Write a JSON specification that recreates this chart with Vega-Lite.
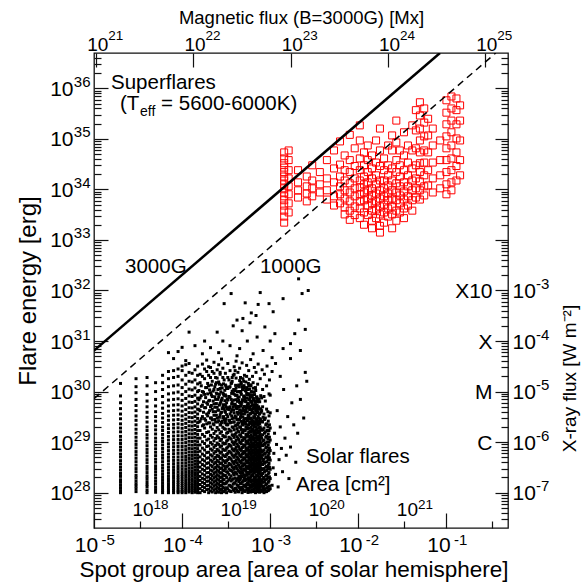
{
"$schema": "https://vega.github.io/schema/vega-lite/v6.json",
"width": 414, "height": 475,
"autosize": "none",
"padding": {"left": 94, "top": 53, "right": 73, "bottom": 55},
"background": "white",
"config": {
 "view": {"stroke": "#111", "strokeWidth": 1.3},
 "axis": {"grid": false, "domain": false, "tickColor": "#111", "tickWidth": 1.2, "labelColor": "#000", "titleColor": "#000", "labelFont": "Liberation Sans", "titleFont": "Liberation Sans", "titleFontWeight": "normal", "labelOverlap": false, "labelFlush": false, "labelBound": false, "titlePadding": 0},
 "text": {"font": "Liberation Sans"}
},
"datasets": {
"solar": [
{"x":2e-5,"y":1e28},{"x":2e-5,"y":1.1e28},{"x":2e-5,"y":1.25e28},{"x":2e-5,"y":1.4e28},{"x":2e-5,"y":1.6e28},{"x":2e-5,"y":1.8e28},{"x":2e-5,"y":2.1e28},{"x":2e-5,"y":2.4e28},{"x":2e-5,"y":2.8e28},{"x":2e-5,"y":3.2e28},{"x":2e-5,"y":3.7e28},{"x":2e-5,"y":4.3e28},{"x":2e-5,"y":5.1e28},{"x":2e-5,"y":5.8e28},{"x":2e-5,"y":6.9e28},{"x":2e-5,"y":8e28},{"x":2e-5,"y":9.4e28},{"x":2e-5,"y":1.1e29},{"x":2e-5,"y":1.3e29},{"x":2e-5,"y":1.6e29},{"x":2e-5,"y":1.9e29},{"x":2e-5,"y":2.3e29},{"x":2e-5,"y":2.9e29},{"x":2e-5,"y":3.6e29},{"x":2e-5,"y":4.6e29},{"x":2e-5,"y":6e29},{"x":2e-5,"y":8.2e29},{"x":2e-5,"y":1.45e30},
{"x":3e-5,"y":1.05e28},{"x":3e-5,"y":1.2e28},{"x":3e-5,"y":1.35e28},{"x":3e-5,"y":1.5e28},{"x":3e-5,"y":1.7e28},{"x":3e-5,"y":1.95e28},{"x":3e-5,"y":2.2e28},{"x":3e-5,"y":2.6e28},{"x":3e-5,"y":3e28},{"x":3e-5,"y":3.5e28},{"x":3e-5,"y":4.1e28},{"x":3e-5,"y":4.8e28},{"x":3e-5,"y":5.6e28},{"x":3e-5,"y":6.5e28},{"x":3e-5,"y":7.7e28},{"x":3e-5,"y":9e28},{"x":3e-5,"y":1.05e29},{"x":3e-5,"y":1.25e29},{"x":3e-5,"y":1.5e29},{"x":3e-5,"y":1.8e29},{"x":3e-5,"y":2.2e29},{"x":3e-5,"y":2.7e29},{"x":3e-5,"y":3.3e29},{"x":3e-5,"y":4.2e29},{"x":3e-5,"y":5.3e29},{"x":3e-5,"y":7e29},{"x":3e-5,"y":9.5e29},{"x":3e-5,"y":1.25e30},{"x":3e-5,"y":1.8e30},
{"x":4e-5,"y":1e28},{"x":4e-5,"y":1.12e28},{"x":4e-5,"y":1.3e28},{"x":4e-5,"y":1.45e28},{"x":4e-5,"y":1.65e28},{"x":4e-5,"y":1.9e28},{"x":4e-5,"y":2.15e28},{"x":4e-5,"y":2.5e28},{"x":4e-5,"y":2.9e28},{"x":4e-5,"y":3.3e28},{"x":4e-5,"y":3.9e28},{"x":4e-5,"y":4.5e28},{"x":4e-5,"y":5.3e28},{"x":4e-5,"y":6.2e28},{"x":4e-5,"y":7.2e28},{"x":4e-5,"y":8.5e28},{"x":4e-5,"y":1e29},{"x":4e-5,"y":1.2e29},{"x":4e-5,"y":1.4e29},{"x":4e-5,"y":1.7e29},{"x":4e-5,"y":2e29},{"x":4e-5,"y":2.5e29},{"x":4e-5,"y":3.1e29},{"x":4e-5,"y":3.9e29},{"x":4e-5,"y":5e29},{"x":4e-5,"y":6.5e29},{"x":4e-5,"y":8.8e29},{"x":4e-5,"y":1.3e30},{"x":4e-5,"y":1.9e30},
{"x":5e-5,"y":1.02e28},{"x":5e-5,"y":1.15e28},{"x":5e-5,"y":1.3e28},{"x":5e-5,"y":1.5e28},{"x":5e-5,"y":1.7e28},{"x":5e-5,"y":1.95e28},{"x":5e-5,"y":2.25e28},{"x":5e-5,"y":2.6e28},{"x":5e-5,"y":3e28},{"x":5e-5,"y":3.4e28},{"x":5e-5,"y":4e28},{"x":5e-5,"y":4.6e28},{"x":5e-5,"y":5.4e28},{"x":5e-5,"y":6.3e28},{"x":5e-5,"y":7.4e28},{"x":5e-5,"y":8.7e28},{"x":5e-5,"y":1.02e29},{"x":5e-5,"y":1.2e29},{"x":5e-5,"y":1.45e29},{"x":5e-5,"y":1.75e29},{"x":5e-5,"y":2.1e29},{"x":5e-5,"y":2.6e29},{"x":5e-5,"y":3.2e29},{"x":5e-5,"y":4e29},{"x":5e-5,"y":5.2e29},{"x":5e-5,"y":7e29},{"x":5e-5,"y":1e30},{"x":5e-5,"y":1.5e30},
{"x":6e-5,"y":1e28},{"x":6e-5,"y":1.1e28},{"x":6e-5,"y":1.22e28},{"x":6e-5,"y":1.38e28},{"x":6e-5,"y":1.55e28},{"x":6e-5,"y":1.75e28},{"x":6e-5,"y":2e28},{"x":6e-5,"y":2.3e28},{"x":6e-5,"y":2.65e28},{"x":6e-5,"y":3.05e28},{"x":6e-5,"y":3.5e28},{"x":6e-5,"y":4.1e28},{"x":6e-5,"y":4.8e28},{"x":6e-5,"y":5.5e28},{"x":6e-5,"y":6.4e28},{"x":6e-5,"y":7.5e28},{"x":6e-5,"y":8.8e28},{"x":6e-5,"y":1.03e29},{"x":6e-5,"y":1.2e29},{"x":6e-5,"y":1.42e29},{"x":6e-5,"y":1.7e29},{"x":6e-5,"y":2e29},{"x":6e-5,"y":2.45e29},{"x":6e-5,"y":3e29},{"x":6e-5,"y":3.7e29},{"x":6e-5,"y":4.7e29},{"x":6e-5,"y":6e29},{"x":6e-5,"y":8e29},{"x":6e-5,"y":1.1e30},{"x":6e-5,"y":1.5e30},{"x":6e-5,"y":2.1e30},
{"x":7e-5,"y":1e28},{"x":7e-5,"y":1.08e28},{"x":7e-5,"y":1.2e28},{"x":7e-5,"y":1.33e28},{"x":7e-5,"y":1.5e28},{"x":7e-5,"y":1.68e28},{"x":7e-5,"y":1.9e28},{"x":7e-5,"y":2.15e28},{"x":7e-5,"y":2.45e28},{"x":7e-5,"y":2.8e28},{"x":7e-5,"y":3.2e28},{"x":7e-5,"y":3.7e28},{"x":7e-5,"y":4.3e28},{"x":7e-5,"y":5e28},{"x":7e-5,"y":5.8e28},{"x":7e-5,"y":6.8e28},{"x":7e-5,"y":8e28},{"x":7e-5,"y":9.3e28},{"x":7e-5,"y":1.1e29},{"x":7e-5,"y":1.3e29},{"x":7e-5,"y":1.55e29},{"x":7e-5,"y":1.85e29},{"x":7e-5,"y":2.2e29},{"x":7e-5,"y":2.7e29},{"x":7e-5,"y":3.3e29},{"x":7e-5,"y":4.1e29},{"x":7e-5,"y":5.2e29},{"x":7e-5,"y":6.8e29},{"x":7e-5,"y":9e29},{"x":7e-5,"y":1.25e30},{"x":7e-5,"y":1.8e30},{"x":7e-5,"y":2.5e30},{"x":7e-5,"y":5.9e30},
{"x":8e-5,"y":1e28},{"x":8e-5,"y":1.1e28},{"x":8e-5,"y":1.21e28},{"x":8e-5,"y":1.35e28},{"x":8e-5,"y":1.52e28},{"x":8e-5,"y":1.7e28},{"x":8e-5,"y":1.92e28},{"x":8e-5,"y":2.18e28},{"x":8e-5,"y":2.5e28},{"x":8e-5,"y":2.85e28},{"x":8e-5,"y":3.25e28},{"x":8e-5,"y":3.75e28},{"x":8e-5,"y":4.35e28},{"x":8e-5,"y":5.05e28},{"x":8e-5,"y":5.9e28},{"x":8e-5,"y":6.9e28},{"x":8e-5,"y":8.1e28},{"x":8e-5,"y":9.5e28},{"x":8e-5,"y":1.12e29},{"x":8e-5,"y":1.32e29},{"x":8e-5,"y":1.58e29},{"x":8e-5,"y":1.9e29},{"x":8e-5,"y":2.25e29},{"x":8e-5,"y":2.75e29},{"x":8e-5,"y":3.4e29},{"x":8e-5,"y":4.2e29},{"x":8e-5,"y":5.4e29},{"x":8e-5,"y":7e29},{"x":8e-5,"y":9.4e29},{"x":8e-5,"y":1.3e30},{"x":8e-5,"y":1.9e30},{"x":8e-5,"y":2.6e30},{"x":8e-5,"y":4.5e30},
{"x":9e-5,"y":1e28},{"x":9e-5,"y":1.07e28},{"x":9e-5,"y":1.17e28},{"x":9e-5,"y":1.3e28},{"x":9e-5,"y":1.44e28},{"x":9e-5,"y":1.6e28},{"x":9e-5,"y":1.78e28},{"x":9e-5,"y":2e28},{"x":9e-5,"y":2.25e28},{"x":9e-5,"y":2.55e28},{"x":9e-5,"y":2.9e28},{"x":9e-5,"y":3.3e28},{"x":9e-5,"y":3.8e28},{"x":9e-5,"y":4.4e28},{"x":9e-5,"y":5.1e28},{"x":9e-5,"y":6e28},{"x":9e-5,"y":7e28},{"x":9e-5,"y":8.2e28},{"x":9e-5,"y":9.6e28},{"x":9e-5,"y":1.13e29},{"x":9e-5,"y":1.34e29},{"x":9e-5,"y":1.6e29},{"x":9e-5,"y":1.92e29},{"x":9e-5,"y":2.3e29},{"x":9e-5,"y":2.8e29},{"x":9e-5,"y":3.45e29},{"x":9e-5,"y":4.3e29},{"x":9e-5,"y":5.5e29},{"x":9e-5,"y":7.2e29},{"x":9e-5,"y":9.8e29},{"x":9e-5,"y":1.35e30},{"x":9e-5,"y":2e30},{"x":9e-5,"y":2.8e30},{"x":9e-5,"y":6.2e30},
{"x":1e-4,"y":1e28},{"x":1e-4,"y":1.06e28},{"x":1e-4,"y":1.15e28},{"x":1e-4,"y":1.26e28},{"x":1e-4,"y":1.38e28},{"x":1e-4,"y":1.52e28},{"x":1e-4,"y":1.68e28},{"x":1e-4,"y":1.86e28},{"x":1e-4,"y":2.07e28},{"x":1e-4,"y":2.3e28},{"x":1e-4,"y":2.6e28},{"x":1e-4,"y":2.95e28},{"x":1e-4,"y":3.35e28},{"x":1e-4,"y":3.85e28},{"x":1e-4,"y":4.45e28},{"x":1e-4,"y":5.15e28},{"x":1e-4,"y":6e28},{"x":1e-4,"y":7e28},{"x":1e-4,"y":8.2e28},{"x":1e-4,"y":9.6e28},{"x":1e-4,"y":1.13e29},{"x":1e-4,"y":1.33e29},{"x":1e-4,"y":1.58e29},{"x":1e-4,"y":1.88e29},{"x":1e-4,"y":2.25e29},{"x":1e-4,"y":2.7e29},{"x":1e-4,"y":3.3e29},{"x":1e-4,"y":4.1e29},{"x":1e-4,"y":5.2e29},{"x":1e-4,"y":6.7e29},{"x":1e-4,"y":8.8e29},{"x":1e-4,"y":1.2e30},{"x":1e-4,"y":1.7e30},{"x":1e-4,"y":2.6e30},{"x":1e-4,"y":3.2e30},{"x":1e-4,"y":7.5e30},
{"x":1.1e-4,"y":1e28},{"x":1.1e-4,"y":1.09e28},{"x":1.1e-4,"y":1.19e28},{"x":1.1e-4,"y":1.31e28},{"x":1.1e-4,"y":1.45e28},{"x":1.1e-4,"y":1.61e28},{"x":1.1e-4,"y":1.8e28},{"x":1.1e-4,"y":2.02e28},{"x":1.1e-4,"y":2.28e28},{"x":1.1e-4,"y":2.6e28},{"x":1.1e-4,"y":2.95e28},{"x":1.1e-4,"y":3.4e28},{"x":1.1e-4,"y":3.9e28},{"x":1.1e-4,"y":4.5e28},{"x":1.1e-4,"y":5.2e28},{"x":1.1e-4,"y":6.1e28},{"x":1.1e-4,"y":7.1e28},{"x":1.1e-4,"y":8.3e28},{"x":1.1e-4,"y":9.8e28},{"x":1.1e-4,"y":1.16e29},{"x":1.1e-4,"y":1.37e29},{"x":1.1e-4,"y":1.63e29},{"x":1.1e-4,"y":1.95e29},{"x":1.1e-4,"y":2.35e29},{"x":1.1e-4,"y":2.85e29},{"x":1.1e-4,"y":3.5e29},{"x":1.1e-4,"y":4.4e29},{"x":1.1e-4,"y":5.6e29},{"x":1.1e-4,"y":7.3e29},{"x":1.1e-4,"y":1e30},{"x":1.1e-4,"y":1.4e30},{"x":1.1e-4,"y":2.1e30},{"x":1.1e-4,"y":3.4e30},{"x":1.1e-4,"y":4.1e30},
{"x":1.2e-4,"y":1.03e28},{"x":1.2e-4,"y":1.13e28},{"x":1.2e-4,"y":1.24e28},{"x":1.2e-4,"y":1.37e28},{"x":1.2e-4,"y":1.52e28},{"x":1.2e-4,"y":1.7e28},{"x":1.2e-4,"y":1.9e28},{"x":1.2e-4,"y":2.13e28},{"x":1.2e-4,"y":2.4e28},{"x":1.2e-4,"y":2.72e28},{"x":1.2e-4,"y":3.1e28},{"x":1.2e-4,"y":3.55e28},{"x":1.2e-4,"y":4.1e28},{"x":1.2e-4,"y":4.75e28},{"x":1.2e-4,"y":5.5e28},{"x":1.2e-4,"y":6.4e28},{"x":1.2e-4,"y":7.5e28},{"x":1.2e-4,"y":8.8e28},{"x":1.2e-4,"y":1.04e29},{"x":1.2e-4,"y":1.23e29},{"x":1.2e-4,"y":1.46e29},{"x":1.2e-4,"y":1.75e29},{"x":1.2e-4,"y":2.1e29},{"x":1.2e-4,"y":2.55e29},{"x":1.2e-4,"y":3.1e29},{"x":1.2e-4,"y":3.85e29},{"x":1.2e-4,"y":4.8e29},{"x":1.2e-4,"y":6.2e29},{"x":1.2e-4,"y":8.2e29},{"x":1.2e-4,"y":1.12e30},{"x":1.2e-4,"y":1.6e30},{"x":1.2e-4,"y":2.4e30},{"x":1.2e-4,"y":3.6e30},{"x":1.2e-4,"y":1.5e31},
{"x":1.3e-4,"y":1e28},{"x":1.3e-4,"y":1.1e28},{"x":1.3e-4,"y":1.22e28},{"x":1.3e-4,"y":1.35e28},{"x":1.3e-4,"y":1.5e28},{"x":1.3e-4,"y":1.68e28},{"x":1.3e-4,"y":1.88e28},{"x":1.3e-4,"y":2.12e28},{"x":1.3e-4,"y":2.4e28},{"x":1.3e-4,"y":2.7e28},{"x":1.3e-4,"y":3.08e28},{"x":1.3e-4,"y":3.52e28},{"x":1.3e-4,"y":4.05e28},{"x":1.3e-4,"y":4.7e28},{"x":1.3e-4,"y":5.45e28},{"x":1.3e-4,"y":6.35e28},{"x":1.3e-4,"y":7.4e28},{"x":1.3e-4,"y":8.7e28},{"x":1.3e-4,"y":1.03e29},{"x":1.3e-4,"y":1.22e29},{"x":1.3e-4,"y":1.45e29},{"x":1.3e-4,"y":1.73e29},{"x":1.3e-4,"y":2.08e29},{"x":1.3e-4,"y":2.5e29},{"x":1.3e-4,"y":3.05e29},{"x":1.3e-4,"y":3.8e29},{"x":1.3e-4,"y":4.75e29},{"x":1.3e-4,"y":6.1e29},{"x":1.3e-4,"y":8e29},{"x":1.3e-4,"y":1.08e30},{"x":1.3e-4,"y":1.55e30},{"x":1.3e-4,"y":2.3e30},
{"x":1.4e-4,"y":1.02e28},{"x":1.4e-4,"y":1.12e28},{"x":1.4e-4,"y":1.25e28},{"x":1.4e-4,"y":1.39e28},{"x":1.4e-4,"y":1.55e28},{"x":1.4e-4,"y":1.73e28},{"x":1.4e-4,"y":1.95e28},{"x":1.4e-4,"y":2.2e28},{"x":1.4e-4,"y":2.48e28},{"x":1.4e-4,"y":2.8e28},{"x":1.4e-4,"y":3.2e28},{"x":1.4e-4,"y":3.66e28},{"x":1.4e-4,"y":4.2e28},{"x":1.4e-4,"y":4.85e28},{"x":1.4e-4,"y":5.6e28},{"x":1.4e-4,"y":6.5e28},{"x":1.4e-4,"y":7.6e28},{"x":1.4e-4,"y":8.9e28},{"x":1.4e-4,"y":1.05e29},{"x":1.4e-4,"y":1.25e29},{"x":1.4e-4,"y":1.49e29},{"x":1.4e-4,"y":1.78e29},{"x":1.4e-4,"y":2.14e29},{"x":1.4e-4,"y":2.6e29},{"x":1.4e-4,"y":3.2e29},{"x":1.4e-4,"y":3.95e29},{"x":1.4e-4,"y":5e29},{"x":1.4e-4,"y":6.4e29},{"x":1.4e-4,"y":8.5e29},{"x":1.4e-4,"y":1.18e30},{"x":1.4e-4,"y":1.7e30},{"x":1.4e-4,"y":2.7e30},{"x":1.4e-4,"y":8.1e30},
{"x":1.5e-4,"y":1e28},{"x":1.5e-4,"y":1.08e28},{"x":1.5e-4,"y":1.18e28},{"x":1.5e-4,"y":1.3e28},{"x":1.5e-4,"y":1.43e28},{"x":1.5e-4,"y":1.58e28},{"x":1.5e-4,"y":1.76e28},{"x":1.5e-4,"y":1.97e28},{"x":1.5e-4,"y":2.2e28},{"x":1.5e-4,"y":2.48e28},{"x":1.5e-4,"y":2.8e28},{"x":1.5e-4,"y":3.18e28},{"x":1.5e-4,"y":3.62e28},{"x":1.5e-4,"y":4.15e28},{"x":1.5e-4,"y":4.78e28},{"x":1.5e-4,"y":5.5e28},{"x":1.5e-4,"y":6.4e28},{"x":1.5e-4,"y":7.45e28},{"x":1.5e-4,"y":8.7e28},{"x":1.5e-4,"y":1.02e29},{"x":1.5e-4,"y":1.2e29},{"x":1.5e-4,"y":1.42e29},{"x":1.5e-4,"y":1.69e29},{"x":1.5e-4,"y":2.02e29},{"x":1.5e-4,"y":2.42e29},{"x":1.5e-4,"y":2.95e29},{"x":1.5e-4,"y":3.6e29},{"x":1.5e-4,"y":4.5e29},{"x":1.5e-4,"y":5.7e29},{"x":1.5e-4,"y":7.4e29},{"x":1.5e-4,"y":1e30},{"x":1.5e-4,"y":1.42e30},{"x":1.5e-4,"y":2.1e30},{"x":1.5e-4,"y":3.2e30},
{"x":1.6e-4,"y":1e28},{"x":1.6e-4,"y":1.2e28},{"x":1.6e-4,"y":1.45e28},{"x":1.6e-4,"y":1.75e28},{"x":1.6e-4,"y":2.1e28},{"x":1.6e-4,"y":2.6e28},{"x":1.6e-4,"y":3.2e28},{"x":1.6e-4,"y":4e28},{"x":1.6e-4,"y":5.1e28},{"x":1.6e-4,"y":6.6e28},{"x":1.6e-4,"y":8.8e28},{"x":1.6e-4,"y":1.2e29},{"x":1.6e-4,"y":1.7e29},{"x":1.6e-4,"y":2.6e29},{"x":1.6e-4,"y":4.2e29},{"x":1.6e-4,"y":7.5e29},{"x":1.6e-4,"y":1.5e30},
{"x":1.7e-4,"y":1.1e28},{"x":1.7e-4,"y":1.32e28},{"x":1.7e-4,"y":1.6e28},{"x":1.7e-4,"y":1.92e28},{"x":1.7e-4,"y":2.35e28},{"x":1.7e-4,"y":2.9e28},{"x":1.7e-4,"y":3.6e28},{"x":1.7e-4,"y":4.5e28},{"x":1.7e-4,"y":5.8e28},{"x":1.7e-4,"y":7.6e28},{"x":1.7e-4,"y":1.02e29},{"x":1.7e-4,"y":1.42e29},{"x":1.7e-4,"y":2.1e29},{"x":1.7e-4,"y":3.2e29},{"x":1.7e-4,"y":5.4e29},{"x":1.7e-4,"y":1e30},{"x":1.7e-4,"y":2e30},
{"x":1.8e-4,"y":1.05e28},{"x":1.8e-4,"y":1.26e28},{"x":1.8e-4,"y":1.52e28},{"x":1.8e-4,"y":1.84e28},{"x":1.8e-4,"y":2.22e28},{"x":1.8e-4,"y":2.75e28},{"x":1.8e-4,"y":3.4e28},{"x":1.8e-4,"y":4.25e28},{"x":1.8e-4,"y":5.4e28},{"x":1.8e-4,"y":7e28},{"x":1.8e-4,"y":9.4e28},{"x":1.8e-4,"y":1.3e29},{"x":1.8e-4,"y":1.9e29},{"x":1.8e-4,"y":2.9e29},{"x":1.8e-4,"y":4.8e29},{"x":1.8e-4,"y":8.8e29},{"x":1.8e-4,"y":1.8e30},
{"x":1.9e-4,"y":1.15e28},{"x":1.9e-4,"y":1.38e28},{"x":1.9e-4,"y":1.68e28},{"x":1.9e-4,"y":2.02e28},{"x":1.9e-4,"y":2.48e28},{"x":1.9e-4,"y":3.05e28},{"x":1.9e-4,"y":3.8e28},{"x":1.9e-4,"y":4.8e28},{"x":1.9e-4,"y":6.2e28},{"x":1.9e-4,"y":8.2e28},{"x":1.9e-4,"y":1.1e29},{"x":1.9e-4,"y":1.55e29},{"x":1.9e-4,"y":2.3e29},{"x":1.9e-4,"y":3.6e29},{"x":1.9e-4,"y":6e29},{"x":1.9e-4,"y":1.2e30},{"x":1.9e-4,"y":2.5e30},
{"x":2e-4,"y":1e28},{"x":2e-4,"y":1.17e28},{"x":2e-4,"y":1.4e28},{"x":2e-4,"y":1.7e28},{"x":2e-4,"y":2.05e28},{"x":2e-4,"y":2.5e28},{"x":2e-4,"y":3.1e28},{"x":2e-4,"y":3.9e28},{"x":2e-4,"y":4.9e28},{"x":2e-4,"y":6.3e28},{"x":2e-4,"y":8.4e28},{"x":2e-4,"y":1.15e29},{"x":2e-4,"y":1.6e29},{"x":2e-4,"y":2.4e29},{"x":2e-4,"y":3.8e29},{"x":2e-4,"y":6.5e29},{"x":2e-4,"y":1.3e30},{"x":2e-4,"y":3.1e30},
{"x":2.1e-4,"y":1.08e28},{"x":2.1e-4,"y":1.3e28},{"x":2.1e-4,"y":1.57e28},{"x":2.1e-4,"y":1.9e28},{"x":2.1e-4,"y":2.3e28},{"x":2.1e-4,"y":2.8e28},{"x":2.1e-4,"y":3.5e28},{"x":2.1e-4,"y":4.4e28},{"x":2.1e-4,"y":5.6e28},{"x":2.1e-4,"y":7.3e28},{"x":2.1e-4,"y":9.8e28},{"x":2.1e-4,"y":1.36e29},{"x":2.1e-4,"y":2e29},{"x":2.1e-4,"y":3e29},{"x":2.1e-4,"y":5e29},{"x":2.1e-4,"y":9.5e29},{"x":2.1e-4,"y":1.9e30},
{"x":2.2e-4,"y":1.03e28},{"x":2.2e-4,"y":1.22e28},{"x":2.2e-4,"y":1.48e28},{"x":2.2e-4,"y":1.79e28},{"x":2.2e-4,"y":2.17e28},{"x":2.2e-4,"y":2.68e28},{"x":2.2e-4,"y":3.3e28},{"x":2.2e-4,"y":4.15e28},{"x":2.2e-4,"y":5.3e28},{"x":2.2e-4,"y":6.9e28},{"x":2.2e-4,"y":9.1e28},{"x":2.2e-4,"y":1.25e29},{"x":2.2e-4,"y":1.8e29},{"x":2.2e-4,"y":2.75e29},{"x":2.2e-4,"y":4.5e29},{"x":2.2e-4,"y":8e29},{"x":2.2e-4,"y":1.6e30},
{"x":2.3e-4,"y":1.12e28},{"x":2.3e-4,"y":1.35e28},{"x":2.3e-4,"y":1.63e28},{"x":2.3e-4,"y":1.97e28},{"x":2.3e-4,"y":2.4e28},{"x":2.3e-4,"y":2.95e28},{"x":2.3e-4,"y":3.7e28},{"x":2.3e-4,"y":4.65e28},{"x":2.3e-4,"y":6e28},{"x":2.3e-4,"y":7.9e28},{"x":2.3e-4,"y":1.06e29},{"x":2.3e-4,"y":1.48e29},{"x":2.3e-4,"y":2.2e29},{"x":2.3e-4,"y":3.4e29},{"x":2.3e-4,"y":5.7e29},{"x":2.3e-4,"y":1.1e30},{"x":2.3e-4,"y":2.3e30},
{"x":2.4e-4,"y":1e28},{"x":2.4e-4,"y":1.19e28},{"x":2.4e-4,"y":1.43e28},{"x":2.4e-4,"y":1.72e28},{"x":2.4e-4,"y":2.08e28},{"x":2.4e-4,"y":2.55e28},{"x":2.4e-4,"y":3.15e28},{"x":2.4e-4,"y":3.95e28},{"x":2.4e-4,"y":5e28},{"x":2.4e-4,"y":6.5e28},{"x":2.4e-4,"y":8.6e28},{"x":2.4e-4,"y":1.18e29},{"x":2.4e-4,"y":1.65e29},{"x":2.4e-4,"y":2.5e29},{"x":2.4e-4,"y":4e29},{"x":2.4e-4,"y":7e29},{"x":2.4e-4,"y":1.4e30},
{"x":2.5e-4,"y":1.06e28},{"x":2.5e-4,"y":1.28e28},{"x":2.5e-4,"y":1.54e28},{"x":2.5e-4,"y":1.87e28},{"x":2.5e-4,"y":2.27e28},{"x":2.5e-4,"y":2.8e28},{"x":2.5e-4,"y":3.45e28},{"x":2.5e-4,"y":4.35e28},{"x":2.5e-4,"y":5.5e28},{"x":2.5e-4,"y":7.2e28},{"x":2.5e-4,"y":9.6e28},{"x":2.5e-4,"y":1.33e29},{"x":2.5e-4,"y":1.95e29},{"x":2.5e-4,"y":3e29},{"x":2.5e-4,"y":4.9e29},{"x":2.5e-4,"y":9e29},{"x":2.5e-4,"y":1.85e30},
{"x":2.6e-4,"y":1.02e28},{"x":2.6e-4,"y":1.21e28},{"x":2.6e-4,"y":1.46e28},{"x":2.6e-4,"y":1.77e28},{"x":2.6e-4,"y":2.14e28},{"x":2.6e-4,"y":2.63e28},{"x":2.6e-4,"y":3.25e28},{"x":2.6e-4,"y":4.08e28},{"x":2.6e-4,"y":5.2e28},{"x":2.6e-4,"y":6.75e28},{"x":2.6e-4,"y":9e28},{"x":2.6e-4,"y":1.22e29},{"x":2.6e-4,"y":1.75e29},{"x":2.6e-4,"y":2.65e29},{"x":2.6e-4,"y":4.3e29},{"x":2.6e-4,"y":7.8e29},{"x":2.6e-4,"y":1.55e30},
{"x":2.7e-4,"y":1.13e28},{"x":2.7e-4,"y":1.36e28},{"x":2.7e-4,"y":1.65e28},{"x":2.7e-4,"y":2e28},{"x":2.7e-4,"y":2.44e28},{"x":2.7e-4,"y":3e28},{"x":2.7e-4,"y":3.75e28},{"x":2.7e-4,"y":4.7e28},{"x":2.7e-4,"y":6.05e28},{"x":2.7e-4,"y":8e28},{"x":2.7e-4,"y":1.07e29},{"x":2.7e-4,"y":1.5e29},{"x":2.7e-4,"y":2.2e29},{"x":2.7e-4,"y":3.45e29},{"x":2.7e-4,"y":5.8e29},{"x":2.7e-4,"y":1.15e30},{"x":2.7e-4,"y":2.4e30},
{"x":2.8e-4,"y":1e28},{"x":2.8e-4,"y":1.16e28},{"x":2.8e-4,"y":1.39e28},{"x":2.8e-4,"y":1.68e28},{"x":2.8e-4,"y":2.03e28},{"x":2.8e-4,"y":2.48e28},{"x":2.8e-4,"y":3.07e28},{"x":2.8e-4,"y":3.85e28},{"x":2.8e-4,"y":4.9e28},{"x":2.8e-4,"y":6.35e28},{"x":2.8e-4,"y":8.4e28},{"x":2.8e-4,"y":1.14e29},{"x":2.8e-4,"y":1.6e29},{"x":2.8e-4,"y":2.45e29},{"x":2.8e-4,"y":3.9e29},{"x":2.8e-4,"y":6.8e29},{"x":2.8e-4,"y":1.35e30},
{"x":2.9e-4,"y":1.07e28},{"x":2.9e-4,"y":1.29e28},{"x":2.9e-4,"y":1.56e28},{"x":2.9e-4,"y":1.88e28},{"x":2.9e-4,"y":2.28e28},{"x":2.9e-4,"y":2.82e28},{"x":2.9e-4,"y":3.48e28},{"x":2.9e-4,"y":4.38e28},{"x":2.9e-4,"y":5.58e28},{"x":2.9e-4,"y":7.25e28},{"x":2.9e-4,"y":9.7e28},{"x":2.9e-4,"y":1.35e29},{"x":2.9e-4,"y":1.97e29},{"x":2.9e-4,"y":3.05e29},{"x":2.9e-4,"y":5e29},{"x":2.9e-4,"y":9.3e29},{"x":2.9e-4,"y":1.9e30},
{"x":3e-4,"y":1.04e28},{"x":3e-4,"y":1.24e28},{"x":3e-4,"y":1.5e28},{"x":3e-4,"y":1.81e28},{"x":3e-4,"y":2.19e28},{"x":3e-4,"y":2.7e28},{"x":3e-4,"y":3.35e28},{"x":3e-4,"y":4.2e28},{"x":3e-4,"y":5.35e28},{"x":3e-4,"y":6.95e28},{"x":3e-4,"y":9.2e28},{"x":3e-4,"y":1.27e29},{"x":3e-4,"y":1.85e29},{"x":3e-4,"y":2.8e29},{"x":3e-4,"y":4.6e29},{"x":3e-4,"y":8.4e29},{"x":3e-4,"y":1.7e30},
{"x":3.1e-4,"y":1.13e28},{"x":3.1e-4,"y":1.5e28},{"x":3.1e-4,"y":2.2e28},{"x":3.1e-4,"y":3e28},{"x":3.1e-4,"y":3.9e28},{"x":3.1e-4,"y":5.2e28},{"x":3.1e-4,"y":6.9e28},{"x":3.1e-4,"y":9.4e28},{"x":3.1e-4,"y":1.28e29},{"x":3.1e-4,"y":1.8e29},{"x":3.1e-4,"y":2.6e29},{"x":3.1e-4,"y":3.9e29},{"x":3.1e-4,"y":5.4e29},{"x":3.1e-4,"y":8.6e29},{"x":3.1e-4,"y":1.35e30},
{"x":3.2e-4,"y":1e28},{"x":3.2e-4,"y":1.25e28},{"x":3.2e-4,"y":1.6e28},{"x":3.2e-4,"y":2e28},{"x":3.2e-4,"y":2.6e28},{"x":3.2e-4,"y":3.3e28},{"x":3.2e-4,"y":4.3e28},{"x":3.2e-4,"y":5.7e28},{"x":3.2e-4,"y":7.6e28},{"x":3.2e-4,"y":1.05e29},{"x":3.2e-4,"y":1.5e29},{"x":3.2e-4,"y":2.2e29},{"x":3.2e-4,"y":3.5e29},{"x":3.2e-4,"y":6e29},{"x":3.2e-4,"y":1.2e30},
{"x":3.3e-4,"y":1.2e28},{"x":3.3e-4,"y":1.7e28},{"x":3.3e-4,"y":2.5e28},{"x":3.3e-4,"y":3.4e28},{"x":3.3e-4,"y":4.5e28},{"x":3.3e-4,"y":6e28},{"x":3.3e-4,"y":8e28},{"x":3.3e-4,"y":1.1e29},{"x":3.3e-4,"y":1.55e29},{"x":3.3e-4,"y":2.2e29},{"x":3.3e-4,"y":3.2e29},{"x":3.3e-4,"y":4.8e29},{"x":3.3e-4,"y":6.8e29},{"x":3.3e-4,"y":1.15e30},{"x":3.3e-4,"y":1.9e30},
{"x":3.4e-4,"y":1.1e28},{"x":3.4e-4,"y":1.4e28},{"x":3.4e-4,"y":1.8e28},{"x":3.4e-4,"y":2.3e28},{"x":3.4e-4,"y":2.95e28},{"x":3.4e-4,"y":3.8e28},{"x":3.4e-4,"y":5e28},{"x":3.4e-4,"y":6.6e28},{"x":3.4e-4,"y":9e28},{"x":3.4e-4,"y":1.25e29},{"x":3.4e-4,"y":1.8e29},{"x":3.4e-4,"y":2.7e29},{"x":3.4e-4,"y":4.4e29},{"x":3.4e-4,"y":8e29},{"x":3.4e-4,"y":1.7e30},
{"x":3.5e-4,"y":1.07e28},{"x":3.5e-4,"y":1.4e28},{"x":3.5e-4,"y":1.95e28},{"x":3.5e-4,"y":2.8e28},{"x":3.5e-4,"y":3.6e28},{"x":3.5e-4,"y":4.8e28},{"x":3.5e-4,"y":6.4e28},{"x":3.5e-4,"y":8.6e28},{"x":3.5e-4,"y":1.2e29},{"x":3.5e-4,"y":1.68e29},{"x":3.5e-4,"y":2.4e29},{"x":3.5e-4,"y":3.6e29},{"x":3.5e-4,"y":5e29},{"x":3.5e-4,"y":7.8e29},{"x":3.5e-4,"y":1.25e30},
{"x":3.6e-4,"y":1.05e28},{"x":3.6e-4,"y":1.32e28},{"x":3.6e-4,"y":1.7e28},{"x":3.6e-4,"y":2.15e28},{"x":3.6e-4,"y":2.75e28},{"x":3.6e-4,"y":3.55e28},{"x":3.6e-4,"y":4.6e28},{"x":3.6e-4,"y":6.1e28},{"x":3.6e-4,"y":8.3e28},{"x":3.6e-4,"y":1.15e29},{"x":3.6e-4,"y":1.65e29},{"x":3.6e-4,"y":2.45e29},{"x":3.6e-4,"y":4e29},{"x":3.6e-4,"y":7e29},{"x":3.6e-4,"y":1.45e30},
{"x":3.7e-4,"y":1.28e28},{"x":3.7e-4,"y":1.8e28},{"x":3.7e-4,"y":2.65e28},{"x":3.7e-4,"y":3.25e28},{"x":3.7e-4,"y":4.2e28},{"x":3.7e-4,"y":5.6e28},{"x":3.7e-4,"y":7.4e28},{"x":3.7e-4,"y":1.02e29},{"x":3.7e-4,"y":1.4e29},{"x":3.7e-4,"y":2e29},{"x":3.7e-4,"y":2.9e29},{"x":3.7e-4,"y":4.4e29},{"x":3.7e-4,"y":6.2e29},{"x":3.7e-4,"y":1.02e30},{"x":3.7e-4,"y":1.6e30},
{"x":3.8e-4,"y":1.15e28},{"x":3.8e-4,"y":1.47e28},{"x":3.8e-4,"y":1.88e28},{"x":3.8e-4,"y":2.42e28},{"x":3.8e-4,"y":3.1e28},{"x":3.8e-4,"y":4e28},{"x":3.8e-4,"y":5.3e28},{"x":3.8e-4,"y":7e28},{"x":3.8e-4,"y":9.6e28},{"x":3.8e-4,"y":1.35e29},{"x":3.8e-4,"y":1.95e29},{"x":3.8e-4,"y":3e29},{"x":3.8e-4,"y":5e29},{"x":3.8e-4,"y":9.5e29},{"x":3.8e-4,"y":2.1e30},
{"x":3.9e-4,"y":1.1e28},{"x":3.9e-4,"y":1.55e28},{"x":3.9e-4,"y":2.25e28},{"x":3.9e-4,"y":2.9e28},{"x":3.9e-4,"y":3.75e28},{"x":3.9e-4,"y":5e28},{"x":3.9e-4,"y":6.7e28},{"x":3.9e-4,"y":9e28},{"x":3.9e-4,"y":1.24e29},{"x":3.9e-4,"y":1.75e29},{"x":3.9e-4,"y":2.5e29},{"x":3.9e-4,"y":3.8e29},{"x":3.9e-4,"y":5.6e29},{"x":3.9e-4,"y":8.9e29},{"x":3.9e-4,"y":2.2e30},
{"x":4e-4,"y":1.02e28},{"x":4e-4,"y":1.22e28},{"x":4e-4,"y":1.55e28},{"x":4e-4,"y":1.95e28},{"x":4e-4,"y":2.5e28},{"x":4e-4,"y":3.2e28},{"x":4e-4,"y":4.15e28},{"x":4e-4,"y":5.5e28},{"x":4e-4,"y":7.3e28},{"x":4e-4,"y":1e29},{"x":4e-4,"y":1.42e29},{"x":4e-4,"y":2.1e29},{"x":4e-4,"y":3.3e29},{"x":4e-4,"y":5.6e29},{"x":4e-4,"y":1.05e30},{"x":4e-4,"y":2.6e30},
{"x":4.1e-4,"y":1.22e28},{"x":4.1e-4,"y":1.72e28},{"x":4.1e-4,"y":2.45e28},{"x":4.1e-4,"y":3.3e28},{"x":4.1e-4,"y":4.4e28},{"x":4.1e-4,"y":5.9e28},{"x":4.1e-4,"y":7.9e28},{"x":4.1e-4,"y":1.08e29},{"x":4.1e-4,"y":1.52e29},{"x":4.1e-4,"y":2.15e29},{"x":4.1e-4,"y":3.1e29},{"x":4.1e-4,"y":4.7e29},{"x":4.1e-4,"y":6.9e29},{"x":4.1e-4,"y":1.18e30},{"x":4.1e-4,"y":1.85e30},
{"x":4.2e-4,"y":1.12e28},{"x":4.2e-4,"y":1.43e28},{"x":4.2e-4,"y":1.83e28},{"x":4.2e-4,"y":2.33e28},{"x":4.2e-4,"y":3e28},{"x":4.2e-4,"y":3.9e28},{"x":4.2e-4,"y":5.1e28},{"x":4.2e-4,"y":6.8e28},{"x":4.2e-4,"y":9.2e28},{"x":4.2e-4,"y":1.28e29},{"x":4.2e-4,"y":1.85e29},{"x":4.2e-4,"y":2.8e29},{"x":4.2e-4,"y":4.6e29},{"x":4.2e-4,"y":8.5e29},
{"x":4.3e-4,"y":1.05e28},{"x":4.3e-4,"y":1.38e28},{"x":4.3e-4,"y":1.92e28},{"x":4.3e-4,"y":2.75e28},{"x":4.3e-4,"y":3.55e28},{"x":4.3e-4,"y":4.75e28},{"x":4.3e-4,"y":6.3e28},{"x":4.3e-4,"y":8.5e28},{"x":4.3e-4,"y":1.18e29},{"x":4.3e-4,"y":1.65e29},{"x":4.3e-4,"y":2.38e29},{"x":4.3e-4,"y":3.55e29},{"x":4.3e-4,"y":5.1e29},{"x":4.3e-4,"y":7.6e29},{"x":4.3e-4,"y":1.3e30},
{"x":4.4e-4,"y":1.04e28},{"x":4.4e-4,"y":1.3e28},{"x":4.4e-4,"y":1.66e28},{"x":4.4e-4,"y":2.1e28},{"x":4.4e-4,"y":2.7e28},{"x":4.4e-4,"y":3.5e28},{"x":4.4e-4,"y":4.5e28},{"x":4.4e-4,"y":6e28},{"x":4.4e-4,"y":8.1e28},{"x":4.4e-4,"y":1.12e29},{"x":4.4e-4,"y":1.6e29},{"x":4.4e-4,"y":2.4e29},{"x":4.4e-4,"y":3.8e29},{"x":4.4e-4,"y":6.7e29},{"x":4.4e-4,"y":1.35e30},
{"x":4.5e-4,"y":1.26e28},{"x":4.5e-4,"y":1.78e28},{"x":4.5e-4,"y":2.6e28},{"x":4.5e-4,"y":3.2e28},{"x":4.5e-4,"y":4.15e28},{"x":4.5e-4,"y":5.5e28},{"x":4.5e-4,"y":7.3e28},{"x":4.5e-4,"y":1e29},{"x":4.5e-4,"y":1.38e29},{"x":4.5e-4,"y":1.97e29},{"x":4.5e-4,"y":2.85e29},{"x":4.5e-4,"y":4.3e29},{"x":4.5e-4,"y":6.1e29},{"x":4.5e-4,"y":1e30},{"x":4.5e-4,"y":1.65e30},
{"x":4.6e-4,"y":1.17e28},{"x":4.6e-4,"y":1.5e28},{"x":4.6e-4,"y":1.92e28},{"x":4.6e-4,"y":2.46e28},{"x":4.6e-4,"y":3.15e28},{"x":4.6e-4,"y":4.1e28},{"x":4.6e-4,"y":5.4e28},{"x":4.6e-4,"y":7.2e28},{"x":4.6e-4,"y":9.8e28},{"x":4.6e-4,"y":1.38e29},{"x":4.6e-4,"y":2e29},{"x":4.6e-4,"y":3.1e29},{"x":4.6e-4,"y":5.2e29},{"x":4.6e-4,"y":1e30},{"x":4.6e-4,"y":1.9e30},
{"x":4.7e-4,"y":1.14e28},{"x":4.7e-4,"y":1.52e28},{"x":4.7e-4,"y":2.18e28},{"x":4.7e-4,"y":2.95e28},{"x":4.7e-4,"y":3.85e28},{"x":4.7e-4,"y":5.15e28},{"x":4.7e-4,"y":6.85e28},{"x":4.7e-4,"y":9.3e28},{"x":4.7e-4,"y":1.27e29},{"x":4.7e-4,"y":1.78e29},{"x":4.7e-4,"y":2.58e29},{"x":4.7e-4,"y":3.85e29},{"x":4.7e-4,"y":5.5e29},{"x":4.7e-4,"y":8.8e29},{"x":4.7e-4,"y":1.4e30},
{"x":4.8e-4,"y":1e28},{"x":4.8e-4,"y":1.27e28},{"x":4.8e-4,"y":1.62e28},{"x":4.8e-4,"y":2.05e28},{"x":4.8e-4,"y":2.62e28},{"x":4.8e-4,"y":3.38e28},{"x":4.8e-4,"y":4.4e28},{"x":4.8e-4,"y":5.8e28},{"x":4.8e-4,"y":7.8e28},{"x":4.8e-4,"y":1.08e29},{"x":4.8e-4,"y":1.54e29},{"x":4.8e-4,"y":2.28e29},{"x":4.8e-4,"y":3.6e29},{"x":4.8e-4,"y":6.2e29},{"x":4.8e-4,"y":1.25e30},
{"x":4.9e-4,"y":1.19e28},{"x":4.9e-4,"y":1.68e28},{"x":4.9e-4,"y":2.48e28},{"x":4.9e-4,"y":3.36e28},{"x":4.9e-4,"y":4.45e28},{"x":4.9e-4,"y":5.95e28},{"x":4.9e-4,"y":7.95e28},{"x":4.9e-4,"y":1.09e29},{"x":4.9e-4,"y":1.54e29},{"x":4.9e-4,"y":2.18e29},{"x":4.9e-4,"y":3.15e29},{"x":4.9e-4,"y":4.75e29},{"x":4.9e-4,"y":6.7e29},{"x":4.9e-4,"y":1.12e30},{"x":4.9e-4,"y":1.8e30},
{"x":5e-4,"y":1.09e28},{"x":5e-4,"y":1.38e28},{"x":5e-4,"y":1.76e28},{"x":5e-4,"y":2.25e28},{"x":5e-4,"y":2.9e28},{"x":5e-4,"y":3.75e28},{"x":5e-4,"y":4.9e28},{"x":5e-4,"y":6.5e28},{"x":5e-4,"y":8.8e28},{"x":5e-4,"y":1.22e29},{"x":5e-4,"y":1.76e29},{"x":5e-4,"y":2.65e29},{"x":5e-4,"y":4.3e29},{"x":5e-4,"y":7.8e29},{"x":5e-4,"y":1.6e30},
{"x":5.1e-4,"y":1.08e28},{"x":5.1e-4,"y":1.42e28},{"x":5.1e-4,"y":1.97e28},{"x":5.1e-4,"y":2.82e28},{"x":5.1e-4,"y":3.62e28},{"x":5.1e-4,"y":4.85e28},{"x":5.1e-4,"y":6.45e28},{"x":5.1e-4,"y":8.7e28},{"x":5.1e-4,"y":1.21e29},{"x":5.1e-4,"y":1.7e29},{"x":5.1e-4,"y":2.42e29},{"x":5.1e-4,"y":3.62e29},{"x":5.1e-4,"y":5.05e29},{"x":5.1e-4,"y":7.9e29},{"x":5.1e-4,"y":1.2e30},
{"x":5.2e-4,"y":1.06e28},{"x":5.2e-4,"y":1.34e28},{"x":5.2e-4,"y":1.72e28},{"x":5.2e-4,"y":2.18e28},{"x":5.2e-4,"y":2.8e28},{"x":5.2e-4,"y":3.6e28},{"x":5.2e-4,"y":4.7e28},{"x":5.2e-4,"y":6.2e28},{"x":5.2e-4,"y":8.4e28},{"x":5.2e-4,"y":1.17e29},{"x":5.2e-4,"y":1.68e29},{"x":5.2e-4,"y":2.5e29},{"x":5.2e-4,"y":4.1e29},{"x":5.2e-4,"y":7.2e29},
{"x":5.3e-4,"y":1.3e28},{"x":5.3e-4,"y":1.82e28},{"x":5.3e-4,"y":2.68e28},{"x":5.3e-4,"y":3.28e28},{"x":5.3e-4,"y":4.25e28},{"x":5.3e-4,"y":5.65e28},{"x":5.3e-4,"y":7.5e28},{"x":5.3e-4,"y":1.03e29},{"x":5.3e-4,"y":1.42e29},{"x":5.3e-4,"y":2.02e29},{"x":5.3e-4,"y":2.92e29},{"x":5.3e-4,"y":4.45e29},{"x":5.3e-4,"y":6.3e29},{"x":5.3e-4,"y":1.05e30},{"x":5.3e-4,"y":1.55e30},
{"x":5.4e-4,"y":1.14e28},{"x":5.4e-4,"y":1.45e28},{"x":5.4e-4,"y":1.86e28},{"x":5.4e-4,"y":2.4e28},{"x":5.4e-4,"y":3.07e28},{"x":5.4e-4,"y":3.97e28},{"x":5.4e-4,"y":5.2e28},{"x":5.4e-4,"y":6.9e28},{"x":5.4e-4,"y":9.5e28},{"x":5.4e-4,"y":1.33e29},{"x":5.4e-4,"y":1.92e29},{"x":5.4e-4,"y":2.95e29},{"x":5.4e-4,"y":4.9e29},{"x":5.4e-4,"y":9.2e29},{"x":5.4e-4,"y":2e30},
{"x":5.5e-4,"y":1.15e28},{"x":5.5e-4,"y":1.53e28},{"x":5.5e-4,"y":2.22e28},{"x":5.5e-4,"y":3.03e28},{"x":5.5e-4,"y":3.95e28},{"x":5.5e-4,"y":5.25e28},{"x":5.5e-4,"y":7e28},{"x":5.5e-4,"y":9.5e28},{"x":5.5e-4,"y":1.3e29},{"x":5.5e-4,"y":1.82e29},{"x":5.5e-4,"y":2.63e29},{"x":5.5e-4,"y":3.95e29},{"x":5.5e-4,"y":5.45e29},{"x":5.5e-4,"y":8.7e29},
{"x":5.6e-4,"y":1.01e28},{"x":5.6e-4,"y":1.23e28},{"x":5.6e-4,"y":1.57e28},{"x":5.6e-4,"y":1.98e28},{"x":5.6e-4,"y":2.53e28},{"x":5.6e-4,"y":3.25e28},{"x":5.6e-4,"y":4.2e28},{"x":5.6e-4,"y":5.6e28},{"x":5.6e-4,"y":7.4e28},{"x":5.6e-4,"y":1.02e29},{"x":5.6e-4,"y":1.45e29},{"x":5.6e-4,"y":2.15e29},{"x":5.6e-4,"y":3.4e29},{"x":5.6e-4,"y":5.8e29},{"x":5.6e-4,"y":1.1e30},
{"x":5.7e-4,"y":1.21e28},{"x":5.7e-4,"y":1.72e28},{"x":5.7e-4,"y":2.52e28},{"x":5.7e-4,"y":3.42e28},{"x":5.7e-4,"y":4.55e28},{"x":5.7e-4,"y":6.05e28},{"x":5.7e-4,"y":8.05e28},{"x":5.7e-4,"y":1.11e29},{"x":5.7e-4,"y":1.56e29},{"x":5.7e-4,"y":2.22e29},{"x":5.7e-4,"y":3.22e29},{"x":5.7e-4,"y":4.85e29},{"x":5.7e-4,"y":6.85e29},{"x":5.7e-4,"y":1.3e30},
{"x":5.8e-4,"y":1.13e28},{"x":5.8e-4,"y":1.44e28},{"x":5.8e-4,"y":1.84e28},{"x":5.8e-4,"y":2.36e28},{"x":5.8e-4,"y":3.02e28},{"x":5.8e-4,"y":3.92e28},{"x":5.8e-4,"y":5.15e28},{"x":5.8e-4,"y":6.85e28},{"x":5.8e-4,"y":9.3e28},{"x":5.8e-4,"y":1.3e29},{"x":5.8e-4,"y":1.88e29},{"x":5.8e-4,"y":2.85e29},{"x":5.8e-4,"y":4.7e29},{"x":5.8e-4,"y":8.7e29},{"x":5.8e-4,"y":1.75e30},
{"x":5.9e-4,"y":1.06e28},{"x":5.9e-4,"y":1.39e28},{"x":5.9e-4,"y":1.93e28},{"x":5.9e-4,"y":2.78e28},{"x":5.9e-4,"y":3.58e28},{"x":5.9e-4,"y":4.78e28},{"x":5.9e-4,"y":6.38e28},{"x":5.9e-4,"y":8.55e28},{"x":5.9e-4,"y":1.19e29},{"x":5.9e-4,"y":1.67e29},{"x":5.9e-4,"y":2.4e29},{"x":5.9e-4,"y":3.58e29},{"x":5.9e-4,"y":5e29},{"x":5.9e-4,"y":7.7e29},
{"x":6e-4,"y":1.03e28},{"x":6e-4,"y":1.3e28},{"x":6e-4,"y":1.64e28},{"x":6e-4,"y":2.08e28},{"x":6e-4,"y":2.66e28},{"x":6e-4,"y":3.45e28},{"x":6e-4,"y":4.48e28},{"x":6e-4,"y":5.9e28},{"x":6e-4,"y":8e28},{"x":6e-4,"y":1.1e29},{"x":6e-4,"y":1.58e29},{"x":6e-4,"y":2.35e29},{"x":6e-4,"y":3.7e29},{"x":6e-4,"y":6.4e29},{"x":6e-4,"y":1.3e30},
{"x":6.1e-4,"y":1.27e28},{"x":6.1e-4,"y":1.79e28},{"x":6.1e-4,"y":2.62e28},{"x":6.1e-4,"y":3.22e28},{"x":6.1e-4,"y":4.18e28},{"x":6.1e-4,"y":5.55e28},{"x":6.1e-4,"y":7.35e28},{"x":6.1e-4,"y":1.01e29},{"x":6.1e-4,"y":1.39e29},{"x":6.1e-4,"y":1.98e29},{"x":6.1e-4,"y":2.88e29},{"x":6.1e-4,"y":4.35e29},{"x":6.1e-4,"y":6.15e29},{"x":6.1e-4,"y":1e30},
{"x":6.2e-4,"y":1.1e28},{"x":6.2e-4,"y":1.4e28},{"x":6.2e-4,"y":1.78e28},{"x":6.2e-4,"y":2.28e28},{"x":6.2e-4,"y":2.93e28},{"x":6.2e-4,"y":3.78e28},{"x":6.2e-4,"y":4.95e28},{"x":6.2e-4,"y":6.55e28},{"x":6.2e-4,"y":8.9e28},{"x":6.2e-4,"y":1.24e29},{"x":6.2e-4,"y":1.78e29},{"x":6.2e-4,"y":2.7e29},{"x":6.2e-4,"y":4.4e29},{"x":6.2e-4,"y":8e29},
{"x":6.3e-4,"y":1.12e28},{"x":6.3e-4,"y":1.49e28},{"x":6.3e-4,"y":2.19e28},{"x":6.3e-4,"y":2.98e28},{"x":6.3e-4,"y":3.88e28},{"x":6.3e-4,"y":5.18e28},{"x":6.3e-4,"y":6.88e28},{"x":6.3e-4,"y":9.35e28},{"x":6.3e-4,"y":1.27e29},{"x":6.3e-4,"y":1.79e29},{"x":6.3e-4,"y":2.58e29},{"x":6.3e-4,"y":3.88e29},{"x":6.3e-4,"y":5.38e29},{"x":6.3e-4,"y":8.5e29},
{"x":6.4e-4,"y":1.05e28},{"x":6.4e-4,"y":1.33e28},{"x":6.4e-4,"y":1.69e28},{"x":6.4e-4,"y":2.14e28},{"x":6.4e-4,"y":2.74e28},{"x":6.4e-4,"y":3.54e28},{"x":6.4e-4,"y":4.6e28},{"x":6.4e-4,"y":6.1e28},{"x":6.4e-4,"y":8.2e28},{"x":6.4e-4,"y":1.14e29},{"x":6.4e-4,"y":1.64e29},{"x":6.4e-4,"y":2.45e29},{"x":6.4e-4,"y":3.95e29},{"x":6.4e-4,"y":7e29},{"x":6.4e-4,"y":1.5e30},
{"x":6.5e-4,"y":1.18e28},{"x":6.5e-4,"y":1.68e28},{"x":6.5e-4,"y":2.48e28},{"x":6.5e-4,"y":3.38e28},{"x":6.5e-4,"y":4.48e28},{"x":6.5e-4,"y":5.98e28},{"x":6.5e-4,"y":7.98e28},{"x":6.5e-4,"y":1.1e29},{"x":6.5e-4,"y":1.55e29},{"x":6.5e-4,"y":2.19e29},{"x":6.5e-4,"y":3.19e29},{"x":6.5e-4,"y":4.79e29},{"x":6.5e-4,"y":6.75e29},
{"x":6.6e-4,"y":1.16e28},{"x":6.6e-4,"y":1.48e28},{"x":6.6e-4,"y":1.9e28},{"x":6.6e-4,"y":2.44e28},{"x":6.6e-4,"y":3.12e28},{"x":6.6e-4,"y":4.05e28},{"x":6.6e-4,"y":5.3e28},{"x":6.6e-4,"y":7.1e28},{"x":6.6e-4,"y":9.7e28},{"x":6.6e-4,"y":1.36e29},{"x":6.6e-4,"y":1.97e29},{"x":6.6e-4,"y":3e29},{"x":6.6e-4,"y":5.1e29},{"x":6.6e-4,"y":9.8e29},
{"x":6.7e-4,"y":1.08e28},{"x":6.7e-4,"y":1.41e28},{"x":6.7e-4,"y":1.96e28},{"x":6.7e-4,"y":2.81e28},{"x":6.7e-4,"y":3.62e28},{"x":6.7e-4,"y":4.82e28},{"x":6.7e-4,"y":6.42e28},{"x":6.7e-4,"y":8.62e28},{"x":6.7e-4,"y":1.2e29},{"x":6.7e-4,"y":1.69e29},{"x":6.7e-4,"y":2.41e29},{"x":6.7e-4,"y":3.61e29},{"x":6.7e-4,"y":5.02e29},
{"x":6.8e-4,"y":1e28},{"x":6.8e-4,"y":1.26e28},{"x":6.8e-4,"y":1.6e28},{"x":6.8e-4,"y":2.03e28},{"x":6.8e-4,"y":2.6e28},{"x":6.8e-4,"y":3.35e28},{"x":6.8e-4,"y":4.35e28},{"x":6.8e-4,"y":5.75e28},{"x":6.8e-4,"y":7.7e28},{"x":6.8e-4,"y":1.06e29},{"x":6.8e-4,"y":1.52e29},{"x":6.8e-4,"y":2.25e29},{"x":6.8e-4,"y":3.55e29},{"x":6.8e-4,"y":6.1e29},{"x":6.8e-4,"y":1.2e30},
{"x":6.9e-4,"y":1.29e28},{"x":6.9e-4,"y":1.81e28},{"x":6.9e-4,"y":2.66e28},{"x":6.9e-4,"y":3.26e28},{"x":6.9e-4,"y":4.22e28},{"x":6.9e-4,"y":5.62e28},{"x":6.9e-4,"y":7.42e28},{"x":6.9e-4,"y":1.02e29},{"x":6.9e-4,"y":1.41e29},{"x":6.9e-4,"y":2.01e29},{"x":6.9e-4,"y":2.91e29},{"x":6.9e-4,"y":4.42e29},
{"x":7e-4,"y":1.08e28},{"x":7e-4,"y":1.37e28},{"x":7e-4,"y":1.75e28},{"x":7e-4,"y":2.23e28},{"x":7e-4,"y":2.87e28},{"x":7e-4,"y":3.7e28},{"x":7e-4,"y":4.85e28},{"x":7e-4,"y":6.4e28},{"x":7e-4,"y":8.7e28},{"x":7e-4,"y":1.2e29},{"x":7e-4,"y":1.74e29},{"x":7e-4,"y":2.6e29},{"x":7e-4,"y":4.25e29},{"x":7e-4,"y":7.6e29},
{"x":7.1e-4,"y":1.13e28},{"x":7.1e-4,"y":1.5e28},{"x":7.1e-4,"y":2.2e28},{"x":7.1e-4,"y":3e28},{"x":7.1e-4,"y":3.9e28},{"x":7.1e-4,"y":5.2e28},{"x":7.1e-4,"y":6.9e28},{"x":7.1e-4,"y":9.4e28},{"x":7.1e-4,"y":1.28e29},{"x":7.1e-4,"y":1.8e29},{"x":7.1e-4,"y":2.6e29},{"x":7.1e-4,"y":3.9e29},{"x":7.1e-4,"y":5.4e29},
{"x":7.2e-4,"y":1.04e28},{"x":7.2e-4,"y":1.31e28},{"x":7.2e-4,"y":1.67e28},{"x":7.2e-4,"y":2.12e28},{"x":7.2e-4,"y":2.72e28},{"x":7.2e-4,"y":3.5e28},{"x":7.2e-4,"y":4.55e28},{"x":7.2e-4,"y":6e28},{"x":7.2e-4,"y":8.1e28},{"x":7.2e-4,"y":1.12e29},{"x":7.2e-4,"y":1.61e29},{"x":7.2e-4,"y":2.4e29},{"x":7.2e-4,"y":3.85e29},{"x":7.2e-4,"y":6.8e29},{"x":7.2e-4,"y":1.4e30},
{"x":7.3e-4,"y":1.2e28},{"x":7.3e-4,"y":1.7e28},{"x":7.3e-4,"y":2.5e28},{"x":7.3e-4,"y":3.4e28},{"x":7.3e-4,"y":4.5e28},{"x":7.3e-4,"y":6e28},{"x":7.3e-4,"y":8e28},{"x":7.3e-4,"y":1.1e29},{"x":7.3e-4,"y":1.55e29},{"x":7.3e-4,"y":2.2e29},{"x":7.3e-4,"y":3.2e29},{"x":7.3e-4,"y":4.8e29},{"x":7.3e-4,"y":6.8e29},
{"x":7.4e-4,"y":1.15e28},{"x":7.4e-4,"y":1.46e28},{"x":7.4e-4,"y":1.87e28},{"x":7.4e-4,"y":2.4e28},{"x":7.4e-4,"y":3.08e28},{"x":7.4e-4,"y":4e28},{"x":7.4e-4,"y":5.25e28},{"x":7.4e-4,"y":7e28},{"x":7.4e-4,"y":9.6e28},{"x":7.4e-4,"y":1.34e29},{"x":7.4e-4,"y":1.94e29},{"x":7.4e-4,"y":2.97e29},{"x":7.4e-4,"y":5e29},
{"x":7.5e-4,"y":1.07e28},{"x":7.5e-4,"y":1.4e28},{"x":7.5e-4,"y":1.95e28},{"x":7.5e-4,"y":2.8e28},{"x":7.5e-4,"y":3.6e28},{"x":7.5e-4,"y":4.8e28},{"x":7.5e-4,"y":6.4e28},{"x":7.5e-4,"y":8.6e28},{"x":7.5e-4,"y":1.2e29},{"x":7.5e-4,"y":1.68e29},{"x":7.5e-4,"y":2.4e29},{"x":7.5e-4,"y":3.6e29},
{"x":7.6e-4,"y":1.02e28},{"x":7.6e-4,"y":1.28e28},{"x":7.6e-4,"y":1.63e28},{"x":7.6e-4,"y":2.06e28},{"x":7.6e-4,"y":2.64e28},{"x":7.6e-4,"y":3.4e28},{"x":7.6e-4,"y":4.42e28},{"x":7.6e-4,"y":5.85e28},{"x":7.6e-4,"y":7.9e28},{"x":7.6e-4,"y":1.09e29},{"x":7.6e-4,"y":1.56e29},{"x":7.6e-4,"y":2.32e29},{"x":7.6e-4,"y":3.65e29},{"x":7.6e-4,"y":6.3e29},
{"x":7.7e-4,"y":1.28e28},{"x":7.7e-4,"y":1.8e28},{"x":7.7e-4,"y":2.65e28},{"x":7.7e-4,"y":3.25e28},{"x":7.7e-4,"y":4.2e28},{"x":7.7e-4,"y":5.6e28},{"x":7.7e-4,"y":7.4e28},{"x":7.7e-4,"y":1.02e29},{"x":7.7e-4,"y":1.4e29},{"x":7.7e-4,"y":2e29},{"x":7.7e-4,"y":2.9e29},
{"x":7.8e-4,"y":1.11e28},{"x":7.8e-4,"y":1.41e28},{"x":7.8e-4,"y":1.8e28},{"x":7.8e-4,"y":2.3e28},{"x":7.8e-4,"y":2.95e28},{"x":7.8e-4,"y":3.82e28},{"x":7.8e-4,"y":5e28},{"x":7.8e-4,"y":6.65e28},{"x":7.8e-4,"y":9.1e28},{"x":7.8e-4,"y":1.27e29},{"x":7.8e-4,"y":1.83e29},{"x":7.8e-4,"y":2.77e29},{"x":7.8e-4,"y":4.55e29},{"x":7.8e-4,"y":8.3e29},
{"x":7.9e-4,"y":1.13e28},{"x":7.9e-4,"y":1.5e28},{"x":7.9e-4,"y":2.2e28},{"x":7.9e-4,"y":3e28},{"x":7.9e-4,"y":3.9e28},{"x":7.9e-4,"y":5.2e28},{"x":7.9e-4,"y":6.9e28},{"x":7.9e-4,"y":9.4e28},{"x":7.9e-4,"y":1.28e29},{"x":7.9e-4,"y":1.8e29},{"x":7.9e-4,"y":2.6e29},{"x":7.9e-4,"y":3.9e29},
{"x":8e-4,"y":1.06e28},{"x":8e-4,"y":1.35e28},{"x":8e-4,"y":1.73e28},{"x":8e-4,"y":2.2e28},{"x":8e-4,"y":2.83e28},{"x":8e-4,"y":3.65e28},{"x":8e-4,"y":4.77e28},{"x":8e-4,"y":6.3e28},{"x":8e-4,"y":8.6e28},{"x":8e-4,"y":1.19e29},{"x":8e-4,"y":1.72e29},{"x":8e-4,"y":2.58e29},{"x":8e-4,"y":4.2e29},{"x":8e-4,"y":7.5e29},
{"x":8.2e-4,"y":1.1e28},{"x":8.2e-4,"y":1.6e28},{"x":8.2e-4,"y":2.4e28},{"x":8.2e-4,"y":3.6e28},{"x":8.2e-4,"y":5.5e28},{"x":8.2e-4,"y":8.5e28},{"x":8.2e-4,"y":1.4e29},{"x":8.2e-4,"y":2.5e29},{"x":8.2e-4,"y":5e29},{"x":8.2e-4,"y":1.1e30},
{"x":8.3e-4,"y":1.25e28},{"x":8.3e-4,"y":1.9e28},{"x":8.3e-4,"y":2.9e28},{"x":8.3e-4,"y":4.3e28},{"x":8.3e-4,"y":6.6e28},{"x":8.3e-4,"y":1.05e29},{"x":8.3e-4,"y":1.75e29},{"x":8.3e-4,"y":3.1e29},
{"x":8.5e-4,"y":1e28},{"x":8.5e-4,"y":1.35e28},{"x":8.5e-4,"y":2e28},{"x":8.5e-4,"y":3e28},{"x":8.5e-4,"y":4.6e28},{"x":8.5e-4,"y":7e28},{"x":8.5e-4,"y":1.1e29},{"x":8.5e-4,"y":1.9e29},{"x":8.5e-4,"y":3.6e29},{"x":8.5e-4,"y":8e29},
{"x":8.6e-4,"y":1.15e28},{"x":8.6e-4,"y":1.65e28},{"x":8.6e-4,"y":2.55e28},{"x":8.6e-4,"y":3.8e28},{"x":8.6e-4,"y":5.8e28},{"x":8.6e-4,"y":9e28},{"x":8.6e-4,"y":1.5e29},{"x":8.6e-4,"y":2.8e29},
{"x":8.8e-4,"y":1.2e28},{"x":8.8e-4,"y":1.8e28},{"x":8.8e-4,"y":2.7e28},{"x":8.8e-4,"y":4e28},{"x":8.8e-4,"y":6e28},{"x":8.8e-4,"y":9.5e28},{"x":8.8e-4,"y":1.6e29},{"x":8.8e-4,"y":3e29},{"x":8.8e-4,"y":6.5e29},
{"x":8.9e-4,"y":1.05e28},{"x":8.9e-4,"y":1.45e28},{"x":8.9e-4,"y":2.15e28},{"x":8.9e-4,"y":3.2e28},{"x":8.9e-4,"y":5.1e28},{"x":8.9e-4,"y":7.8e28},{"x":8.9e-4,"y":1.25e29},{"x":8.9e-4,"y":2.2e29},
{"x":9.1e-4,"y":1.05e28},{"x":9.1e-4,"y":1.5e28},{"x":9.1e-4,"y":2.2e28},{"x":9.1e-4,"y":3.3e28},{"x":9.1e-4,"y":5e28},{"x":9.1e-4,"y":8e28},{"x":9.1e-4,"y":1.3e29},{"x":9.1e-4,"y":2.3e29},{"x":9.1e-4,"y":4.5e29},{"x":9.1e-4,"y":1.3e30},
{"x":9.2e-4,"y":1.25e28},{"x":9.2e-4,"y":1.85e28},{"x":9.2e-4,"y":2.75e28},{"x":9.2e-4,"y":4.1e28},{"x":9.2e-4,"y":6.4e28},{"x":9.2e-4,"y":1e29},{"x":9.2e-4,"y":1.7e29},
{"x":9.4e-4,"y":1.3e28},{"x":9.4e-4,"y":2e28},{"x":9.4e-4,"y":3e28},{"x":9.4e-4,"y":4.5e28},{"x":9.4e-4,"y":7e28},{"x":9.4e-4,"y":1.15e29},{"x":9.4e-4,"y":2e29},{"x":9.4e-4,"y":4e29},
{"x":9.5e-4,"y":1.1e28},{"x":9.5e-4,"y":1.6e28},{"x":9.5e-4,"y":2.35e28},{"x":9.5e-4,"y":3.5e28},{"x":9.5e-4,"y":5.4e28},{"x":9.5e-4,"y":8.7e28},{"x":9.5e-4,"y":1.45e29},{"x":9.5e-4,"y":2.6e29},
{"x":9.7e-4,"y":1.15e28},{"x":9.7e-4,"y":1.7e28},{"x":9.7e-4,"y":2.5e28},{"x":9.7e-4,"y":3.8e28},{"x":9.7e-4,"y":6e28},{"x":9.7e-4,"y":1e29},{"x":9.7e-4,"y":1.7e29},{"x":9.7e-4,"y":3.3e29},{"x":9.7e-4,"y":9e29},
{"x":9.8e-4,"y":1.35e28},{"x":9.8e-4,"y":2.05e28},{"x":9.8e-4,"y":3.2e28},{"x":9.8e-4,"y":4.9e28},{"x":9.8e-4,"y":7.6e28},{"x":9.8e-4,"y":1.25e29},{"x":9.8e-4,"y":2.2e29},
{"x":1e-3,"y":1.2e28},{"x":1e-3,"y":1.9e28},{"x":1e-3,"y":2.9e28},{"x":1e-3,"y":4.4e28},{"x":1e-3,"y":6.8e28},{"x":1e-3,"y":1.1e29},{"x":1e-3,"y":1.9e29},{"x":1e-3,"y":3.8e29},{"x":1e-3,"y":8.5e29},
{"x":1.55e-4,"y":2.5e29},{"x":1.55e-4,"y":4.4e29},{"x":1.55e-4,"y":6.9e29},{"x":1.55e-4,"y":1.05e30},
{"x":1.65e-4,"y":2.9e29},{"x":1.65e-4,"y":5.1e29},{"x":1.65e-4,"y":8.3e29},{"x":1.65e-4,"y":1.3e30},
{"x":1.75e-4,"y":2.2e29},{"x":1.75e-4,"y":3.9e29},{"x":1.75e-4,"y":6.3e29},{"x":1.75e-4,"y":9.7e29},
{"x":1.85e-4,"y":2.7e29},{"x":1.85e-4,"y":4.8e29},{"x":1.85e-4,"y":7.6e29},{"x":1.85e-4,"y":1.2e30},
{"x":1.95e-4,"y":3.3e29},{"x":1.95e-4,"y":5.6e29},{"x":1.95e-4,"y":9e29},{"x":1.95e-4,"y":1.45e30},
{"x":2.05e-4,"y":2.4e29},{"x":2.05e-4,"y":4.2e29},{"x":2.05e-4,"y":6.7e29},{"x":2.05e-4,"y":1.08e30},
{"x":2.15e-4,"y":3e29},{"x":2.15e-4,"y":5.3e29},{"x":2.15e-4,"y":8.6e29},{"x":2.15e-4,"y":1.35e30},
{"x":2.25e-4,"y":2.3e29},{"x":2.25e-4,"y":4e29},{"x":2.25e-4,"y":6.5e29},{"x":2.25e-4,"y":1.02e30},
{"x":2.35e-4,"y":2.8e29},{"x":2.35e-4,"y":4.9e29},{"x":2.35e-4,"y":7.9e29},{"x":2.35e-4,"y":1.25e30},
{"x":2.45e-4,"y":3.4e29},{"x":2.45e-4,"y":5.8e29},{"x":2.45e-4,"y":9.3e29},{"x":2.45e-4,"y":1.5e30},
{"x":2.55e-4,"y":2.5e29},{"x":2.55e-4,"y":4.3e29},{"x":2.55e-4,"y":7e29},{"x":2.55e-4,"y":1.1e30},
{"x":2.65e-4,"y":3.1e29},{"x":2.65e-4,"y":5.4e29},{"x":2.65e-4,"y":8.8e29},{"x":2.65e-4,"y":1.4e30},
{"x":2.75e-4,"y":2.2e29},{"x":2.75e-4,"y":3.8e29},{"x":2.75e-4,"y":6.2e29},{"x":2.75e-4,"y":9.9e29},
{"x":2.85e-4,"y":2.6e29},{"x":2.85e-4,"y":4.6e29},{"x":2.85e-4,"y":7.4e29},{"x":2.85e-4,"y":1.18e30},
{"x":2.95e-4,"y":3.2e29},{"x":2.95e-4,"y":5.5e29},{"x":2.95e-4,"y":8.9e29},{"x":2.95e-4,"y":1.42e30},
{"x":3.05e-4,"y":2.4e29},{"x":3.05e-4,"y":4.1e29},{"x":3.05e-4,"y":6.6e29},{"x":3.05e-4,"y":1.06e30},
{"x":3.15e-4,"y":2.9e29},{"x":3.15e-4,"y":5e29},{"x":3.15e-4,"y":8.1e29},{"x":3.15e-4,"y":1.28e30},
{"x":3.25e-4,"y":2.3e29},{"x":3.25e-4,"y":4.5e29},{"x":3.25e-4,"y":7.1e29},{"x":3.25e-4,"y":1.15e30},
{"x":3.45e-4,"y":2.7e29},{"x":3.45e-4,"y":4.7e29},{"x":3.45e-4,"y":7.7e29},{"x":3.45e-4,"y":1.22e30},
{"x":3.65e-4,"y":3.3e29},{"x":3.65e-4,"y":5.7e29},{"x":3.65e-4,"y":9.2e29},{"x":3.65e-4,"y":1.48e30},
{"x":3.85e-4,"y":2.5e29},{"x":3.85e-4,"y":4.3e29},{"x":3.85e-4,"y":6.8e29},{"x":3.85e-4,"y":1.1e30},
{"x":4.05e-4,"y":3e29},{"x":4.05e-4,"y":5.2e29},{"x":4.05e-4,"y":8.4e29},{"x":4.05e-4,"y":1.33e30},
{"x":4.25e-4,"y":2.2e29},{"x":4.25e-4,"y":3.9e29},{"x":4.25e-4,"y":6.4e29},{"x":4.25e-4,"y":1e30},
{"x":4.45e-4,"y":2.8e29},{"x":4.45e-4,"y":4.9e29},{"x":4.45e-4,"y":7.8e29},{"x":4.45e-4,"y":1.24e30},
{"x":4.65e-4,"y":3.4e29},{"x":4.65e-4,"y":5.9e29},{"x":4.65e-4,"y":9.5e29},{"x":4.65e-4,"y":1.52e30},
{"x":4.85e-4,"y":2.4e29},{"x":4.85e-4,"y":4.2e29},{"x":4.85e-4,"y":6.9e29},{"x":4.85e-4,"y":1.09e30},
{"x":5.05e-4,"y":2.9e29},{"x":5.05e-4,"y":5.1e29},{"x":5.05e-4,"y":8.2e29},{"x":5.05e-4,"y":1.31e30},
{"x":5.25e-4,"y":2.3e29},{"x":5.25e-4,"y":4e29},{"x":5.25e-4,"y":6.4e29},{"x":5.25e-4,"y":1.03e30},
{"x":5.45e-4,"y":2.7e29},{"x":5.45e-4,"y":4.7e29},{"x":5.45e-4,"y":7.5e29},{"x":5.45e-4,"y":1.2e30},
{"x":5.65e-4,"y":3.2e29},{"x":5.65e-4,"y":5.6e29},{"x":5.65e-4,"y":9.1e29},{"x":5.65e-4,"y":1.45e30},
{"x":5.85e-4,"y":2.5e29},{"x":5.85e-4,"y":4.4e29},{"x":5.85e-4,"y":7.1e29},{"x":5.85e-4,"y":1.12e30},
{"x":6.05e-4,"y":3e29},{"x":6.05e-4,"y":5.2e29},{"x":6.05e-4,"y":8.5e29},{"x":6.05e-4,"y":1.36e30},
{"x":6.25e-4,"y":2.2e29},{"x":6.25e-4,"y":3.8e29},{"x":6.25e-4,"y":6.1e29},{"x":6.25e-4,"y":9.8e29},
{"x":6.45e-4,"y":2.6e29},{"x":6.45e-4,"y":4.6e29},{"x":6.45e-4,"y":7.3e29},{"x":6.45e-4,"y":1.17e30},
{"x":6.65e-4,"y":3.1e29},{"x":6.65e-4,"y":5.4e29},{"x":6.65e-4,"y":8.7e29},
{"x":6.85e-4,"y":2.4e29},{"x":6.85e-4,"y":4.1e29},{"x":6.85e-4,"y":6.6e29},{"x":6.85e-4,"y":1.05e30},
{"x":7.05e-4,"y":2.8e29},{"x":7.05e-4,"y":4.9e29},{"x":7.05e-4,"y":7.9e29},
{"x":7.25e-4,"y":2.3e29},{"x":7.25e-4,"y":4e29},{"x":7.25e-4,"y":6.3e29},
{"x":7.45e-4,"y":2.6e29},{"x":7.45e-4,"y":4.5e29},{"x":7.45e-4,"y":7.2e29},
{"x":1.05e-3,"y":1.4e28},{"x":1.08e-3,"y":3.1e28},{"x":1.1e-3,"y":6e28},{"x":1.12e-3,"y":1.5e29},{"x":1.15e-3,"y":2.3e28},{"x":1.18e-3,"y":9e28},{"x":1.2e-3,"y":4.2e29},{"x":1.23e-3,"y":1.3e28},{"x":1.26e-3,"y":4.5e28},{"x":1.3e-3,"y":2e29},{"x":1.34e-3,"y":7.5e28},{"x":1.38e-3,"y":2.6e28},{"x":1.42e-3,"y":1.1e30},{"x":1.47e-3,"y":1.2e29},{"x":1.52e-3,"y":5.5e28},{"x":1.58e-3,"y":3.2e29},{"x":1.63e-3,"y":1.9e28},{"x":1.7e-3,"y":8e28},{"x":1.76e-3,"y":6e29},{"x":1.85e-3,"y":2.2e29},{"x":1.95e-3,"y":4e28},{"x":2.05e-3,"y":1.5e29},{"x":2.2e-3,"y":7e29},{"x":2.4e-3,"y":3e29},{"x":2.6e-3,"y":1.6e30},
{"x":1.6e-4,"y":2.2e30},{"x":1.7e-4,"y":3.5e30},{"x":1.8e-4,"y":2.8e30},{"x":1.9e-4,"y":4.2e30},{"x":2e-4,"y":2.1e30},{"x":2.1e-4,"y":3e30},{"x":2.2e-4,"y":2.5e30},{"x":2.3e-4,"y":3.8e30},{"x":2.4e-4,"y":1.9e30},{"x":2.5e-4,"y":2.7e30},{"x":2.6e-4,"y":3.4e30},{"x":2.7e-4,"y":2.2e30},{"x":2.8e-4,"y":4.4e30},{"x":2.9e-4,"y":2.9e30},{"x":3.1e-4,"y":2.3e30},{"x":3.3e-4,"y":3.6e30},{"x":3.5e-4,"y":2.6e30},{"x":3.7e-4,"y":1.9e30},{"x":3.9e-4,"y":3.1e30},{"x":4.1e-4,"y":4e30},{"x":4.3e-4,"y":2.4e30},{"x":4.5e-4,"y":2.9e30},{"x":4.8e-4,"y":3.7e30},{"x":5.1e-4,"y":2.1e30},{"x":5.4e-4,"y":3.3e30},{"x":5.7e-4,"y":2.6e30},{"x":6e-4,"y":4.3e30},{"x":6.3e-4,"y":2e30},{"x":6.6e-4,"y":3e30},{"x":6.9e-4,"y":2.4e30},{"x":7.3e-4,"y":3.5e30},{"x":7.7e-4,"y":1.8e30},{"x":8.1e-4,"y":2.7e30},{"x":8.6e-4,"y":2.2e30},{"x":9.2e-4,"y":3.2e30},{"x":9.8e-4,"y":1.7e30},{"x":1.05e-3,"y":2.5e30},{"x":1.15e-3,"y":3.6e30},{"x":1.3e-3,"y":2e30},
{"x":2.1e-3,"y":1.7e32},{"x":2.7e-3,"y":1e32},{"x":2.3e-3,"y":8.7e31},{"x":7.7e-4,"y":9.1e31},{"x":3.6e-4,"y":8.7e31},{"x":1.4e-3,"y":6.9e31},{"x":5.2e-4,"y":5.7e31},{"x":3e-4,"y":5.5e31},{"x":9.7e-4,"y":5.5e31},{"x":7.3e-4,"y":5.3e31},{"x":1.08e-3,"y":3.8e31},{"x":6.1e-4,"y":3.6e31},{"x":4.9e-4,"y":2.8e31},{"x":6.9e-4,"y":3.2e31},{"x":4.2e-4,"y":2.6e31},{"x":2.1e-3,"y":2.6e31},{"x":2.5e-3,"y":1.7e31},{"x":1.9e-3,"y":1.4e31},{"x":5.9e-4,"y":2.3e31},{"x":3.8e-4,"y":2e31},{"x":8.7e-4,"y":1.9e31},{"x":4.8e-4,"y":1.6e31},{"x":2.5e-4,"y":1.5e31},{"x":1.13e-3,"y":1.4e31},{"x":1.8e-4,"y":1e31},{"x":2.9e-4,"y":1e31},{"x":5.5e-4,"y":1e31},{"x":7.1e-4,"y":1.2e31},{"x":1e-3,"y":1e31},{"x":1.7e-3,"y":8.9e30},{"x":2.1e-4,"y":7.4e30},{"x":3.5e-4,"y":8.1e30},{"x":4.5e-4,"y":7.1e30},{"x":8.3e-4,"y":6.5e30},{"x":1.4e-3,"y":7.1e30},{"x":2.2e-3,"y":6.5e30},{"x":1.7e-4,"y":5.6e30},{"x":2.6e-4,"y":5.9e30},{"x":4.2e-4,"y":5.1e30},{"x":6.4e-4,"y":5.6e30},{"x":1.05e-3,"y":4.7e30},{"x":1.7e-3,"y":4.5e30},{"x":2.5e-3,"y":2.4e30},{"x":2e-3,"y":1.3e30}
],
"superflares": [
{"x":1.44e-3,"y":5.4e34},{"x":1.44e-3,"y":4.1e34},{"x":1.44e-3,"y":3.3e34},{"x":1.44e-3,"y":2.7e34},{"x":1.44e-3,"y":2.2e34},{"x":1.44e-3,"y":1.8e34},{"x":1.44e-3,"y":1.5e34},{"x":1.44e-3,"y":1.26e34},{"x":1.44e-3,"y":1.05e34},{"x":1.44e-3,"y":8.7e33},{"x":1.44e-3,"y":7.3e33},{"x":1.44e-3,"y":6.1e33},{"x":1.44e-3,"y":4.8e33},{"x":1.44e-3,"y":3.8e33},{"x":1.44e-3,"y":2.9e33},{"x":1.44e-3,"y":2.2e33},
{"x":1.62e-3,"y":5.9e34},{"x":1.62e-3,"y":3.8e34},{"x":1.62e-3,"y":2.4e34},{"x":1.62e-3,"y":1.65e34},{"x":1.62e-3,"y":1.15e34},{"x":1.62e-3,"y":8e33},{"x":1.62e-3,"y":5.3e33},{"x":1.62e-3,"y":3.5e33},
{"x":2.07e-3,"y":2.4e34},{"x":2.07e-3,"y":1.38e34},{"x":2.07e-3,"y":9.6e33},{"x":2.07e-3,"y":6.9e33},
{"x":2.6e-3,"y":1.8e34},{"x":2.6e-3,"y":1.15e34},{"x":2.6e-3,"y":8.3e33},{"x":2.6e-3,"y":5.8e33},
{"x":3e-3,"y":3e34},{"x":3e-3,"y":1.5e34},{"x":3e-3,"y":1.05e34},{"x":3e-3,"y":7.3e33},
{"x":3.66e-3,"y":2.2e34},{"x":3.66e-3,"y":1.26e34},{"x":3.66e-3,"y":8.7e33},
{"x":4.4e-3,"y":3.8e34},{"x":4.4e-3,"y":1.65e34},{"x":4.4e-3,"y":9.6e33},{"x":4.4e-3,"y":6.3e33},
{"x":5.3e-3,"y":5.9e34},{"x":5.3e-3,"y":2.6e34},{"x":5.3e-3,"y":1.38e34},{"x":5.3e-3,"y":7.3e33},{"x":5.3e-3,"y":4.8e33},
{"x":6.2e-3,"y":8.9e34},{"x":6.2e-3,"y":3.1e34},{"x":6.2e-3,"y":1.8e34},{"x":6.2e-3,"y":1.15e34},{"x":6.2e-3,"y":8e33},{"x":6.2e-3,"y":5.3e33},
{"x":7e-3,"y":4.7e34},{"x":7e-3,"y":2.4e34},{"x":7e-3,"y":1.5e34},{"x":7e-3,"y":9.6e33},{"x":7e-3,"y":6.6e33},{"x":7e-3,"y":4.4e33},{"x":7e-3,"y":3.2e33},
{"x":8e-3,"y":1.2e35},{"x":8e-3,"y":3.8e34},{"x":8e-3,"y":2.2e34},{"x":8e-3,"y":1.32e34},{"x":8e-3,"y":8.7e33},{"x":8e-3,"y":5.8e33},{"x":8e-3,"y":3.8e33},{"x":8e-3,"y":2.5e33},
{"x":9.1e-3,"y":6.5e34},{"x":9.1e-3,"y":2.9e34},{"x":9.1e-3,"y":1.65e34},{"x":9.1e-3,"y":1.05e34},{"x":9.1e-3,"y":7.3e33},{"x":9.1e-3,"y":4.6e33},{"x":9.1e-3,"y":3.1e33},
{"x":1.04e-2,"y":1.85e35},{"x":1.04e-2,"y":9.3e34},{"x":1.04e-2,"y":4.1e34},{"x":1.04e-2,"y":2.4e34},{"x":1.04e-2,"y":1.5e34},{"x":1.04e-2,"y":1.1e34},{"x":1.04e-2,"y":8e33},{"x":1.04e-2,"y":5.8e33},{"x":1.04e-2,"y":4.2e33},{"x":1.04e-2,"y":2.7e33},
{"x":1.16e-2,"y":5.4e34},{"x":1.16e-2,"y":3e34},{"x":1.16e-2,"y":1.8e34},{"x":1.16e-2,"y":1.26e34},{"x":1.16e-2,"y":8.7e33},{"x":1.16e-2,"y":6.1e33},{"x":1.16e-2,"y":3.5e33},{"x":1.16e-2,"y":2e33},
{"x":1.28e-2,"y":7.4e34},{"x":1.28e-2,"y":3.8e34},{"x":1.28e-2,"y":2.2e34},{"x":1.28e-2,"y":1.38e34},{"x":1.28e-2,"y":9.6e33},{"x":1.28e-2,"y":6.6e33},{"x":1.28e-2,"y":4.8e33},{"x":1.28e-2,"y":3.1e33},
{"x":1.43e-2,"y":4.7e34},{"x":1.43e-2,"y":2.6e34},{"x":1.43e-2,"y":1.65e34},{"x":1.43e-2,"y":1.05e34},{"x":1.43e-2,"y":7.6e33},{"x":1.43e-2,"y":5.3e33},{"x":1.43e-2,"y":3.8e33},{"x":1.43e-2,"y":2.4e33},{"x":1.43e-2,"y":1.7e33},
{"x":1.59e-2,"y":9.3e34},{"x":1.59e-2,"y":3.4e34},{"x":1.59e-2,"y":1.9e34},{"x":1.59e-2,"y":1.26e34},{"x":1.59e-2,"y":8.3e33},{"x":1.59e-2,"y":5.8e33},{"x":1.59e-2,"y":4e33},{"x":1.59e-2,"y":2.7e33},
{"x":1.76e-2,"y":1.6e35},{"x":1.76e-2,"y":5.9e34},{"x":1.76e-2,"y":2.9e34},{"x":1.76e-2,"y":1.5e34},{"x":1.76e-2,"y":9.6e33},{"x":1.76e-2,"y":6.6e33},{"x":1.76e-2,"y":4.6e33},{"x":1.76e-2,"y":3.2e33},{"x":1.76e-2,"y":1.9e33},{"x":1.76e-2,"y":1.4e33},
{"x":1.96e-2,"y":4.1e34},{"x":1.96e-2,"y":2.4e34},{"x":1.96e-2,"y":1.5e34},{"x":1.96e-2,"y":1.05e34},{"x":1.96e-2,"y":7.3e33},{"x":1.96e-2,"y":5e33},{"x":1.96e-2,"y":3.5e33},{"x":1.96e-2,"y":2.2e33},
{"x":2.18e-2,"y":7.4e34},{"x":2.18e-2,"y":3e34},{"x":2.18e-2,"y":1.9e34},{"x":2.18e-2,"y":1.2e34},{"x":2.18e-2,"y":8.3e33},{"x":2.18e-2,"y":6.1e33},{"x":2.18e-2,"y":4.2e33},{"x":2.18e-2,"y":2.9e33},
{"x":2.42e-2,"y":1.17e35},{"x":2.42e-2,"y":5.9e34},{"x":2.42e-2,"y":2.6e34},{"x":2.42e-2,"y":1.5e34},{"x":2.42e-2,"y":9.6e33},{"x":2.42e-2,"y":6.6e33},{"x":2.42e-2,"y":4.6e33},{"x":2.42e-2,"y":3.2e33},{"x":2.42e-2,"y":1.7e33},
{"x":2.7e-2,"y":2.3e35},{"x":2.7e-2,"y":8.5e34},{"x":2.7e-2,"y":3.8e34},{"x":2.7e-2,"y":2.2e34},{"x":2.7e-2,"y":1.32e34},{"x":2.7e-2,"y":8.7e33},{"x":2.7e-2,"y":6.1e33},{"x":2.7e-2,"y":3.8e33},{"x":2.7e-2,"y":2.4e33},
{"x":2.96e-2,"y":5.9e34},{"x":2.96e-2,"y":3e34},{"x":2.96e-2,"y":1.8e34},{"x":2.96e-2,"y":1.15e34},{"x":2.96e-2,"y":7.6e33},{"x":2.96e-2,"y":5.3e33},{"x":2.96e-2,"y":3.5e33},
{"x":3.3e-2,"y":1.35e35},{"x":3.3e-2,"y":4.7e34},{"x":3.3e-2,"y":2.4e34},{"x":3.3e-2,"y":1.38e34},{"x":3.3e-2,"y":9.1e33},{"x":3.3e-2,"y":6.3e33},{"x":3.3e-2,"y":4.2e33},{"x":3.3e-2,"y":2.7e33},
{"x":3.66e-2,"y":7.4e34},{"x":3.66e-2,"y":3.4e34},{"x":3.66e-2,"y":1.9e34},{"x":3.66e-2,"y":1.15e34},{"x":3.66e-2,"y":7.3e33},{"x":3.66e-2,"y":4.8e33},
{"x":4.1e-2,"y":1.85e35},{"x":4.1e-2,"y":5.9e34},{"x":4.1e-2,"y":2.6e34},{"x":4.1e-2,"y":1.5e34},{"x":4.1e-2,"y":9.6e33},{"x":4.1e-2,"y":6.1e33},{"x":4.1e-2,"y":3.8e33},
{"x":4.5e-2,"y":3.7e35},{"x":4.5e-2,"y":1.47e35},{"x":4.5e-2,"y":6.5e34},{"x":4.5e-2,"y":3e34},{"x":4.5e-2,"y":1.65e34},{"x":4.5e-2,"y":1.05e34},{"x":4.5e-2,"y":6.9e33},
{"x":5e-2,"y":5.3e35},{"x":5e-2,"y":2.9e35},{"x":5e-2,"y":1.6e35},{"x":5e-2,"y":9.3e34},{"x":5e-2,"y":5.4e34},{"x":5e-2,"y":3.3e34},{"x":5e-2,"y":2.2e34},{"x":5e-2,"y":1.44e34},{"x":5e-2,"y":9.6e33},{"x":5e-2,"y":6.3e33},
{"x":5.6e-2,"y":4e35},{"x":5.6e-2,"y":2.1e35},{"x":5.6e-2,"y":1.12e35},{"x":5.6e-2,"y":5.9e34},{"x":5.6e-2,"y":3.4e34},{"x":5.6e-2,"y":1.9e34},{"x":5.6e-2,"y":1.15e34},{"x":5.6e-2,"y":7.6e33},
{"x":6.2e-2,"y":2.5e35},{"x":6.2e-2,"y":1.17e35},{"x":6.2e-2,"y":5.4e34},{"x":6.2e-2,"y":2.4e34},{"x":6.2e-2,"y":1.2e34},
{"x":7e-2,"y":1.6e35},{"x":7e-2,"y":7.4e34},{"x":7e-2,"y":3.4e34},{"x":7e-2,"y":1.65e34},{"x":7e-2,"y":8.7e33},
{"x":8.5e-2,"y":9.3e34},{"x":8.5e-2,"y":3.8e34},{"x":8.5e-2,"y":1.9e34},{"x":8.5e-2,"y":1.05e34},
{"x":0.1,"y":5.8e35},{"x":0.1,"y":3.3e35},{"x":0.1,"y":1.94e35},{"x":0.1,"y":1.12e35},{"x":0.1,"y":6.5e34},{"x":0.1,"y":3.8e34},{"x":0.1,"y":2.2e34},{"x":0.1,"y":1.26e34},{"x":0.1,"y":8e33},
{"x":0.114,"y":6.9e35},{"x":0.114,"y":4e35},{"x":0.114,"y":2.3e35},{"x":0.114,"y":1.35e35},{"x":0.114,"y":7.4e34},{"x":0.114,"y":4.1e34},{"x":0.114,"y":2.4e34},{"x":0.114,"y":1.38e34},{"x":0.114,"y":9.6e33},
{"x":0.13,"y":6.3e35},{"x":0.13,"y":3.7e35},{"x":0.13,"y":1.94e35},{"x":0.13,"y":1.02e35},{"x":0.13,"y":5.4e34},{"x":0.13,"y":2.9e34},{"x":0.13,"y":1.5e34},
{"x":0.143,"y":4.6e35},{"x":0.143,"y":2.3e35},{"x":0.143,"y":9.3e34},{"x":0.143,"y":3.8e34},{"x":0.143,"y":1.9e34}
],
"lines": [
{"B":"3000G","x":1e-5,"y":6.46e30},{"B":"3000G","x":0.0845,"y":5e36},
{"B":"1000G","x":1e-5,"y":7.24e29},{"B":"1000G","x":0.363,"y":5e36}
],
"textA": [
{"t":"Superflares","x":1.56e-5,"y":9.5e35},
{"t":"(T","x":1.97e-5,"y":3.66e35},
{"t":"= 5600-6000K)","x":5.77e-5,"y":3.66e35},
{"t":"Solar flares","x":2.55e-3,"y":3.93e28}
],
"textB": [
{"t":"3000G","x":2.25e-5,"y":2.17e32},
{"t":"1000G","x":7.65e-4,"y":2.17e32},
{"t":"Area [cm²]","x":1.96e-3,"y":1.1e28}
],
"sub": [
{"t":"eff","x":3.33e-5,"y":2.8e35}
]
},
"layer": [
{
 "data": {"name": "solar"},
 "mark": {"type": "point", "shape": "square", "filled": true, "size": 9, "color": "#000", "opacity": 1, "strokeWidth": 0, "clip": true},
 "encoding": {
  "x": {"field": "x", "type": "quantitative", "scale": {"type": "log", "domain": [1e-5, 0.5], "nice": false},
   "axis": {"orient": "bottom", "values": [1e-5, 1e-4, 0.001, 0.01, 0.1], "tickSize": -15, "labelExpr": "'10'", "labelAlign": "center", "labelBaseline": "alphabetic", "labelPadding": 38, "labelOffset": -8, "labelFontSize": 21,
    "title": "Spot group area [area of solar hemisphere]", "titleFontSize": 22.5, "titleX": 199.5, "titleY": 48, "titleAlign": "center", "titleBaseline": "alphabetic", "titleAngle": 0}},
  "y": {"field": "y", "type": "quantitative", "scale": {"type": "log", "domain": [2e27, 5e36], "nice": false},
   "axis": {"orient": "left", "values": [1e28, 1e29, 1e30, 1e31, 1e32, 1e33, 1e34, 1e35, 1e36], "tickSize": -14, "labelExpr": "'10'", "labelAlign": "right", "labelBaseline": "middle", "labelPadding": 35, "labelOffset": 1, "labelFontSize": 21,
    "title": "Flare energy [erg]", "titleFontSize": 24, "titleAngle": 270, "titleX": -59, "titleY": 237.5, "titleAlign": "center", "titleBaseline": "alphabetic"}}
 }
},
{
 "data": {"name": "superflares"},
 "mark": {"type": "point", "shape": "square", "filled": false, "size": 49, "color": "#ff0000", "strokeWidth": 1, "opacity": 1, "clip": true},
 "encoding": {
  "x": {"field": "x", "type": "quantitative", "scale": {"type": "log", "domain": [1e-5, 0.5], "nice": false},
   "axis": {"orient": "bottom", "values": [1e-5, 1e-4, 0.001, 0.01, 0.1], "ticks": false, "labelExpr": "'' + round(log(datum.value)/LN10)", "labelAlign": "left", "labelBaseline": "alphabetic", "labelPadding": 16, "labelOffset": 7, "labelFontSize": 15, "title": null}},
  "y": {"field": "y", "type": "quantitative", "scale": {"type": "log", "domain": [2e27, 5e36], "nice": false},
   "axis": {"orient": "left", "values": [1e28, 1e29, 1e30, 1e31, 1e32, 1e33, 1e34, 1e35, 1e36], "ticks": false, "labelExpr": "'' + round(log(datum.value)/LN10)", "labelAlign": "right", "labelBaseline": "middle", "labelPadding": 4, "labelOffset": -7, "labelFontSize": 15, "title": null}}
 }
},
{
 "data": {"name": "lines"},
 "transform": [{"filter": "datum.B == '3000G'"}],
 "mark": {"type": "line", "color": "#000", "strokeWidth": 2.5, "clip": true},
 "encoding": {
  "x": {"field": "x", "type": "quantitative", "scale": {"type": "log", "domain": [1e-5, 0.5], "nice": false},
   "axis": {"orient": "bottom", "values": [3.29e-5, 3.29e-4, 0.00329, 0.0329, 0.329], "tickSize": -7, "labelExpr": "datum.value < 0.1 ? '10' : ''", "labelAlign": "center", "labelBaseline": "alphabetic", "labelPadding": -6, "labelOffset": 3, "labelFontSize": 19, "title": null}},
  "y": {"field": "y", "type": "quantitative", "scale": {"type": "log", "domain": [2e27, 5e36], "nice": false},
   "axis": {"orient": "left", "values": [3e27,4e27,5e27,6e27,7e27,8e27,9e27,2e28,3e28,4e28,5e28,6e28,7e28,8e28,9e28,2e29,3e29,4e29,5e29,6e29,7e29,8e29,9e29,2e30,3e30,4e30,5e30,6e30,7e30,8e30,9e30,2e31,3e31,4e31,5e31,6e31,7e31,8e31,9e31,2e32,3e32,4e32,5e32,6e32,7e32,8e32,9e32,2e33,3e33,4e33,5e33,6e33,7e33,8e33,9e33,2e34,3e34,4e34,5e34,6e34,7e34,8e34,9e34,2e35,3e35,4e35,5e35,6e35,7e35,8e35,9e35,2e36,3e36,4e36], "tickSize": -7, "labels": false, "title": null}}
 }
},
{
 "data": {"name": "lines"},
 "transform": [{"filter": "datum.B == '1000G'"}],
 "mark": {"type": "line", "color": "#000", "strokeWidth": 1.5, "strokeDash": [7, 5], "clip": true},
 "encoding": {
  "x": {"field": "x", "type": "quantitative", "scale": {"type": "log", "domain": [1e-5, 0.5], "nice": false},
   "axis": {"orient": "bottom", "values": [3.29e-5, 3.29e-4, 0.00329, 0.0329], "ticks": false, "labelExpr": "'' + round(log(datum.value*3.04e22)/LN10)", "labelAlign": "left", "labelBaseline": "alphabetic", "labelPadding": -20, "labelOffset": 13.5, "labelFontSize": 13.5, "title": null}},
  "y": {"field": "y", "type": "quantitative", "scale": {"type": "log", "domain": [2e27, 5e36], "nice": false},
   "axis": {"orient": "right", "values": [1e28, 1e29, 1e30, 1e31, 1e32, 1e33, 1e34, 1e35, 1e36], "tickSize": -13, "labelExpr": "datum.value < 2e32 ? '10' : ''", "labelAlign": "left", "labelBaseline": "middle", "labelPadding": 17, "labelOffset": 1, "labelFontSize": 21,
    "title": "X-ray flux [W m⁻²]", "titleFontSize": 19, "titleAngle": 270, "titleX": 67, "titleY": 325, "titleAlign": "center", "titleBaseline": "alphabetic"}}
 }
},
{
 "data": {"name": "textA"},
 "mark": {"type": "text", "align": "left", "baseline": "alphabetic", "fontSize": 20.5, "color": "#000", "font": "Liberation Sans"},
 "encoding": {
  "x": {"field": "x", "type": "quantitative", "scale": {"type": "log", "domain": [1e-5, 0.5], "nice": false},
   "axis": {"orient": "top", "values": [1.059e-5, 1.346e-4, 0.00171, 0.02173, 0.2761], "tickSize": -14, "labelExpr": "'10'", "labelAlign": "center", "labelBaseline": "alphabetic", "labelPadding": 17, "labelOffset": 1, "labelFontSize": 19,
    "title": "Magnetic flux (B=3000G) [Mx]", "titleFontSize": 18.5, "titleX": 207, "titleY": -30, "titleAlign": "center", "titleBaseline": "alphabetic", "titleAngle": 0}},
  "y": {"field": "y", "type": "quantitative", "scale": {"type": "log", "domain": [2e27, 5e36], "nice": false},
   "axis": {"orient": "right", "values": [3e27,4e27,5e27,6e27,7e27,8e27,9e27,2e28,3e28,4e28,5e28,6e28,7e28,8e28,9e28,2e29,3e29,4e29,5e29,6e29,7e29,8e29,9e29,2e30,3e30,4e30,5e30,6e30,7e30,8e30,9e30,2e31,3e31,4e31,5e31,6e31,7e31,8e31,9e31,2e32,3e32,4e32,5e32,6e32,7e32,8e32,9e32,2e33,3e33,4e33,5e33,6e33,7e33,8e33,9e33,2e34,3e34,4e34,5e34,6e34,7e34,8e34,9e34,2e35,3e35,4e35,5e35,6e35,7e35,8e35,9e35,2e36,3e36,4e36], "tickSize": -7, "labels": false, "title": null}},
  "text": {"field": "t"}
 }
},
{
 "data": {"name": "textB"},
 "mark": {"type": "text", "align": "left", "baseline": "alphabetic", "fontSize": 20.5, "color": "#000", "font": "Liberation Sans"},
 "encoding": {
  "x": {"field": "x", "type": "quantitative", "scale": {"type": "log", "domain": [1e-5, 0.5], "nice": false},
   "axis": {"orient": "top", "values": [1.059e-5, 1.346e-4, 0.00171, 0.02173, 0.2761], "ticks": false, "labelExpr": "'' + (21 + round((log(datum.value)/LN10 + 4.975)/1.104))", "labelAlign": "left", "labelBaseline": "alphabetic", "labelPadding": 14, "labelOffset": 11.5, "labelFontSize": 13.5, "title": null}},
  "y": {"field": "y", "type": "quantitative", "scale": {"type": "log", "domain": [2e27, 5e36], "nice": false},
   "axis": {"orient": "right", "values": [1e28, 1e29, 1e30, 1e31, 1e32], "ticks": false, "labelExpr": "'-' + (35 - round(log(datum.value)/LN10))", "labelAlign": "left", "labelBaseline": "middle", "labelPadding": 27.5, "labelOffset": -7, "labelFontSize": 15, "title": null}},
  "text": {"field": "t"}
 }
},
{
 "data": {"name": "sub"},
 "mark": {"type": "text", "align": "left", "baseline": "alphabetic", "fontSize": 14, "color": "#000", "font": "Liberation Sans"},
 "encoding": {
  "x": {"field": "x", "type": "quantitative", "scale": {"type": "log", "domain": [1e-5, 0.5], "nice": false}, "axis": null},
  "y": {"field": "y", "type": "quantitative", "scale": {"type": "log", "domain": [2e27, 5e36], "nice": false},
   "axis": {"orient": "right", "values": [1e29, 1e30, 1e31, 1e32], "ticks": false, "labelExpr": "datum.value > 5e31 ? 'X10' : datum.value > 5e30 ? 'X' : datum.value > 5e29 ? 'M' : 'C'", "labelAlign": "right", "labelBaseline": "middle", "labelPadding": -16, "labelOffset": 1, "labelFontSize": 21, "title": null}},
  "text": {"field": "t"}
 }
}
],
"resolve": {"axis": {"x": "independent", "y": "independent"}}
}
